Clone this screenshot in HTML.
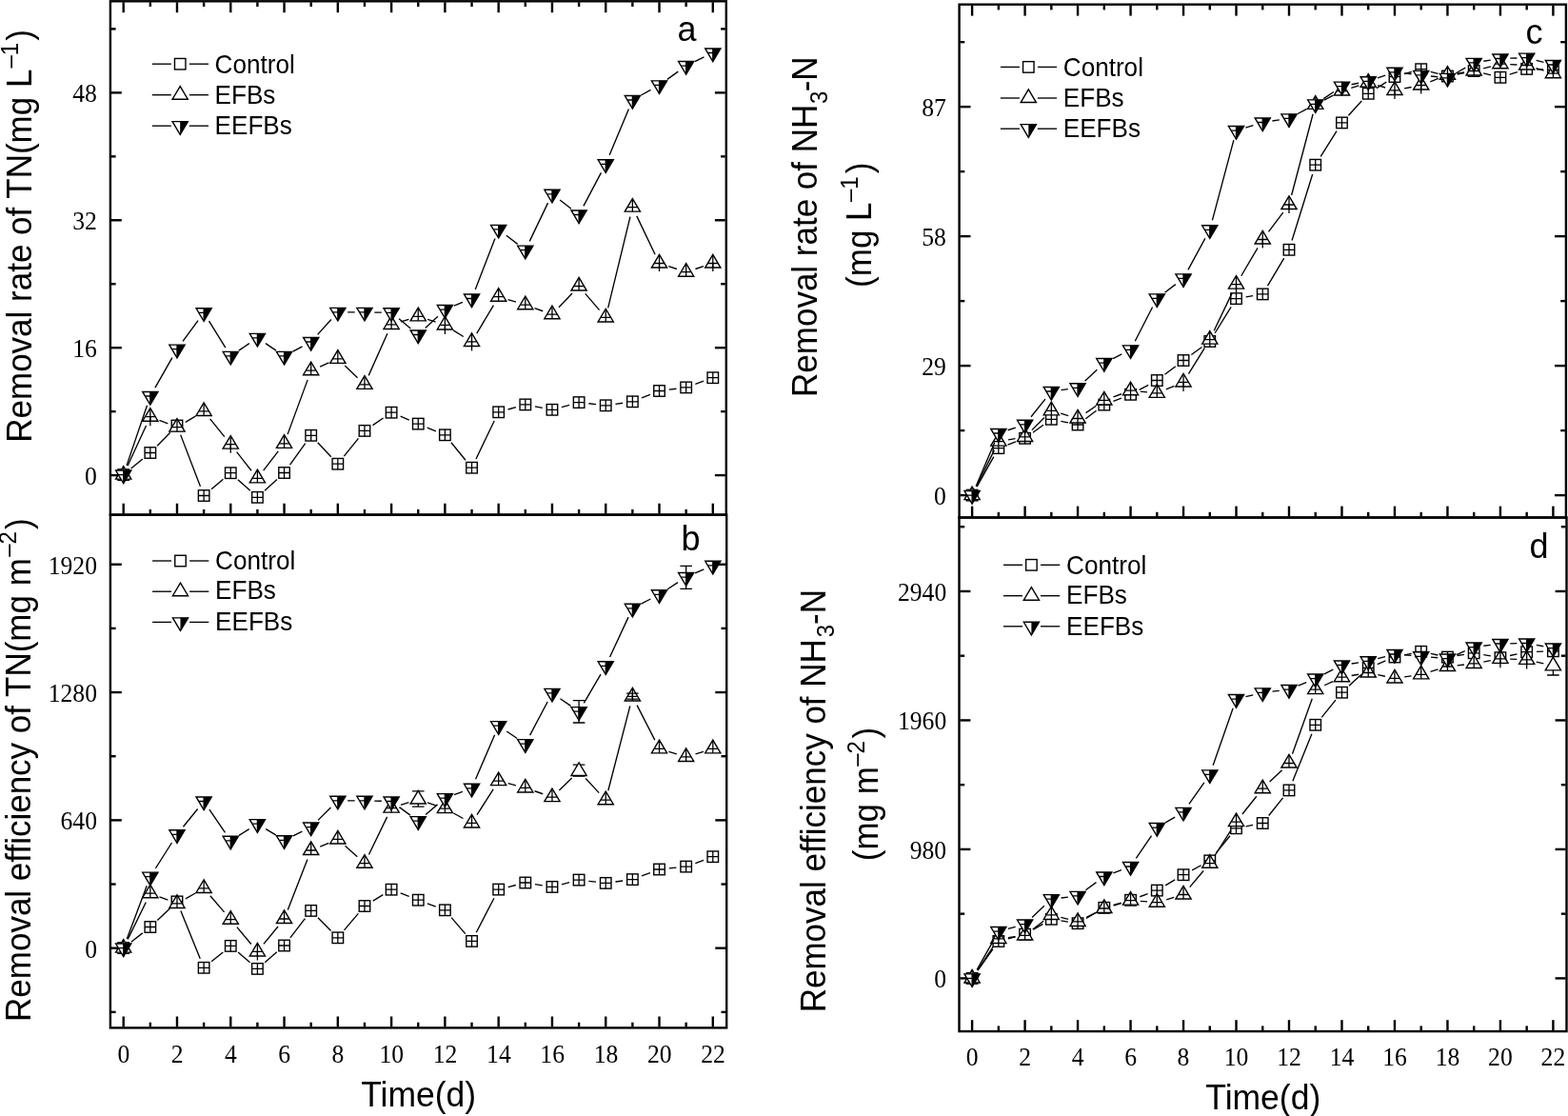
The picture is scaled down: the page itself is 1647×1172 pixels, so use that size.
<!DOCTYPE html>
<html><head><meta charset="utf-8"><title>Removal rate and efficiency of TN and NH3-N</title>
<style>
html,body{margin:0;padding:0;background:#fff;}
body{width:1647px;height:1172px;overflow:hidden;}
svg{display:block;}
.lab{font-family:"Liberation Sans",Arial,sans-serif;stroke:none;fill:#000;}
.num{font-family:"Liberation Serif","Times New Roman",serif;stroke:none;fill:#000;}
</style></head><body>
<svg width="1647" height="1172" viewBox="0 0 1647 1172">
<rect x="0" y="0" width="1647" height="1172" fill="#fff"/>
<g stroke="#000" fill="#000">
<rect x="115.9" y="1.3" width="646.9" height="539.3" fill="none" stroke-width="2.4"/>
<line x1="129.7" y1="2.3" x2="129.7" y2="13.2" stroke-width="2.4" stroke-linecap="butt"/>
<line x1="129.7" y1="539.6" x2="129.7" y2="528.7" stroke-width="2.4" stroke-linecap="butt"/>
<line x1="157.84" y1="2.3" x2="157.84" y2="7" stroke-width="2.4" stroke-linecap="butt"/>
<line x1="157.84" y1="539.6" x2="157.84" y2="534.9" stroke-width="2.4" stroke-linecap="butt"/>
<line x1="185.98" y1="2.3" x2="185.98" y2="13.2" stroke-width="2.4" stroke-linecap="butt"/>
<line x1="185.98" y1="539.6" x2="185.98" y2="528.7" stroke-width="2.4" stroke-linecap="butt"/>
<line x1="214.12" y1="2.3" x2="214.12" y2="7" stroke-width="2.4" stroke-linecap="butt"/>
<line x1="214.12" y1="539.6" x2="214.12" y2="534.9" stroke-width="2.4" stroke-linecap="butt"/>
<line x1="242.26" y1="2.3" x2="242.26" y2="13.2" stroke-width="2.4" stroke-linecap="butt"/>
<line x1="242.26" y1="539.6" x2="242.26" y2="528.7" stroke-width="2.4" stroke-linecap="butt"/>
<line x1="270.4" y1="2.3" x2="270.4" y2="7" stroke-width="2.4" stroke-linecap="butt"/>
<line x1="270.4" y1="539.6" x2="270.4" y2="534.9" stroke-width="2.4" stroke-linecap="butt"/>
<line x1="298.55" y1="2.3" x2="298.55" y2="13.2" stroke-width="2.4" stroke-linecap="butt"/>
<line x1="298.55" y1="539.6" x2="298.55" y2="528.7" stroke-width="2.4" stroke-linecap="butt"/>
<line x1="326.69" y1="2.3" x2="326.69" y2="7" stroke-width="2.4" stroke-linecap="butt"/>
<line x1="326.69" y1="539.6" x2="326.69" y2="534.9" stroke-width="2.4" stroke-linecap="butt"/>
<line x1="354.83" y1="2.3" x2="354.83" y2="13.2" stroke-width="2.4" stroke-linecap="butt"/>
<line x1="354.83" y1="539.6" x2="354.83" y2="528.7" stroke-width="2.4" stroke-linecap="butt"/>
<line x1="382.97" y1="2.3" x2="382.97" y2="7" stroke-width="2.4" stroke-linecap="butt"/>
<line x1="382.97" y1="539.6" x2="382.97" y2="534.9" stroke-width="2.4" stroke-linecap="butt"/>
<line x1="411.11" y1="2.3" x2="411.11" y2="13.2" stroke-width="2.4" stroke-linecap="butt"/>
<line x1="411.11" y1="539.6" x2="411.11" y2="528.7" stroke-width="2.4" stroke-linecap="butt"/>
<line x1="439.25" y1="2.3" x2="439.25" y2="7" stroke-width="2.4" stroke-linecap="butt"/>
<line x1="439.25" y1="539.6" x2="439.25" y2="534.9" stroke-width="2.4" stroke-linecap="butt"/>
<line x1="467.39" y1="2.3" x2="467.39" y2="13.2" stroke-width="2.4" stroke-linecap="butt"/>
<line x1="467.39" y1="539.6" x2="467.39" y2="528.7" stroke-width="2.4" stroke-linecap="butt"/>
<line x1="495.53" y1="2.3" x2="495.53" y2="7" stroke-width="2.4" stroke-linecap="butt"/>
<line x1="495.53" y1="539.6" x2="495.53" y2="534.9" stroke-width="2.4" stroke-linecap="butt"/>
<line x1="523.67" y1="2.3" x2="523.67" y2="13.2" stroke-width="2.4" stroke-linecap="butt"/>
<line x1="523.67" y1="539.6" x2="523.67" y2="528.7" stroke-width="2.4" stroke-linecap="butt"/>
<line x1="551.81" y1="2.3" x2="551.81" y2="7" stroke-width="2.4" stroke-linecap="butt"/>
<line x1="551.81" y1="539.6" x2="551.81" y2="534.9" stroke-width="2.4" stroke-linecap="butt"/>
<line x1="579.96" y1="2.3" x2="579.96" y2="13.2" stroke-width="2.4" stroke-linecap="butt"/>
<line x1="579.96" y1="539.6" x2="579.96" y2="528.7" stroke-width="2.4" stroke-linecap="butt"/>
<line x1="608.1" y1="2.3" x2="608.1" y2="7" stroke-width="2.4" stroke-linecap="butt"/>
<line x1="608.1" y1="539.6" x2="608.1" y2="534.9" stroke-width="2.4" stroke-linecap="butt"/>
<line x1="636.24" y1="2.3" x2="636.24" y2="13.2" stroke-width="2.4" stroke-linecap="butt"/>
<line x1="636.24" y1="539.6" x2="636.24" y2="528.7" stroke-width="2.4" stroke-linecap="butt"/>
<line x1="664.38" y1="2.3" x2="664.38" y2="7" stroke-width="2.4" stroke-linecap="butt"/>
<line x1="664.38" y1="539.6" x2="664.38" y2="534.9" stroke-width="2.4" stroke-linecap="butt"/>
<line x1="692.52" y1="2.3" x2="692.52" y2="13.2" stroke-width="2.4" stroke-linecap="butt"/>
<line x1="692.52" y1="539.6" x2="692.52" y2="528.7" stroke-width="2.4" stroke-linecap="butt"/>
<line x1="720.66" y1="2.3" x2="720.66" y2="7" stroke-width="2.4" stroke-linecap="butt"/>
<line x1="720.66" y1="539.6" x2="720.66" y2="534.9" stroke-width="2.4" stroke-linecap="butt"/>
<line x1="748.8" y1="2.3" x2="748.8" y2="13.2" stroke-width="2.4" stroke-linecap="butt"/>
<line x1="748.8" y1="539.6" x2="748.8" y2="528.7" stroke-width="2.4" stroke-linecap="butt"/>
<line x1="116.9" y1="499.1" x2="127.8" y2="499.1" stroke-width="2.4" stroke-linecap="butt"/>
<line x1="761.8" y1="499.1" x2="750.9" y2="499.1" stroke-width="2.4" stroke-linecap="butt"/>
<line x1="116.9" y1="365.19" x2="127.8" y2="365.19" stroke-width="2.4" stroke-linecap="butt"/>
<line x1="761.8" y1="365.19" x2="750.9" y2="365.19" stroke-width="2.4" stroke-linecap="butt"/>
<line x1="116.9" y1="231.27" x2="127.8" y2="231.27" stroke-width="2.4" stroke-linecap="butt"/>
<line x1="761.8" y1="231.27" x2="750.9" y2="231.27" stroke-width="2.4" stroke-linecap="butt"/>
<line x1="116.9" y1="97.36" x2="127.8" y2="97.36" stroke-width="2.4" stroke-linecap="butt"/>
<line x1="761.8" y1="97.36" x2="750.9" y2="97.36" stroke-width="2.4" stroke-linecap="butt"/>
<line x1="116.9" y1="432.14" x2="121.6" y2="432.14" stroke-width="2.4" stroke-linecap="butt"/>
<line x1="761.8" y1="432.14" x2="757.1" y2="432.14" stroke-width="2.4" stroke-linecap="butt"/>
<line x1="116.9" y1="298.23" x2="121.6" y2="298.23" stroke-width="2.4" stroke-linecap="butt"/>
<line x1="761.8" y1="298.23" x2="757.1" y2="298.23" stroke-width="2.4" stroke-linecap="butt"/>
<line x1="116.9" y1="164.32" x2="121.6" y2="164.32" stroke-width="2.4" stroke-linecap="butt"/>
<line x1="761.8" y1="164.32" x2="757.1" y2="164.32" stroke-width="2.4" stroke-linecap="butt"/>
<line x1="116.9" y1="30.4" x2="121.6" y2="30.4" stroke-width="2.4" stroke-linecap="butt"/>
<line x1="761.8" y1="30.4" x2="757.1" y2="30.4" stroke-width="2.4" stroke-linecap="butt"/>
<text transform="translate(101.8 509.1) scale(0.95 1)" font-size="27" text-anchor="end" class="num">0</text>
<text transform="translate(101.8 375.19) scale(0.95 1)" font-size="27" text-anchor="end" class="num">16</text>
<text transform="translate(101.8 241.27) scale(0.95 1)" font-size="27" text-anchor="end" class="num">32</text>
<text transform="translate(101.8 107.36) scale(0.95 1)" font-size="27" text-anchor="end" class="num">48</text>
<path d="M137.66 492.06L149.88 482.04M165.08 468.17L178.75 454.33M189.66 456.62L210.44 510.88M221.99 513.85L234.4 503.35M249.88 503.63L262.79 515.37M278 515.34L290.95 503.46M304.55 488.13L320.68 465.67M333.75 464.8L347.77 479.7M361.3 479.19L376.49 460.41M391.48 446.59L402.6 439.01M420.6 437.21L429.76 441.09M448.76 449.05L457.88 452.85M473.91 464.77L489.01 483.23M500 481.92L519.2 442.08M533.59 430.02L541.9 427.68M561.93 426.84L569.84 428.36M589.89 427.58L598.16 425.32M618.33 423.76L626 424.64M646.44 424.35L654.18 423.25M673.94 417.96L682.96 414.34M702.74 409.19L710.44 408.21M730.34 403.39L739.12 400.21" fill="none" stroke-width="1.35"/>
<rect x="123.95" y="492.85" width="11.5" height="11.5" fill="#fff" stroke-width="1.4"/>
<path d="M129.7 492.85V504.35M123.95 498.6H135.45" fill="none" stroke-width="1.3"/>
<rect x="152.09" y="469.75" width="11.5" height="11.5" fill="#fff" stroke-width="1.4"/>
<path d="M157.84 469.75V481.25M152.09 475.5H163.59" fill="none" stroke-width="1.3"/>
<rect x="180.23" y="441.25" width="11.5" height="11.5" fill="#fff" stroke-width="1.4"/>
<path d="M185.98 441.25V452.75M180.23 447H191.73" fill="none" stroke-width="1.3"/>
<rect x="208.37" y="514.75" width="11.5" height="11.5" fill="#fff" stroke-width="1.4"/>
<path d="M214.12 514.75V526.25M208.37 520.5H219.87" fill="none" stroke-width="1.3"/>
<rect x="236.51" y="490.95" width="11.5" height="11.5" fill="#fff" stroke-width="1.4"/>
<path d="M242.26 490.95V502.45M236.51 496.7H248.01" fill="none" stroke-width="1.3"/>
<rect x="264.65" y="516.55" width="11.5" height="11.5" fill="#fff" stroke-width="1.4"/>
<path d="M270.4 516.55V528.05M264.65 522.3H276.15" fill="none" stroke-width="1.3"/>
<rect x="292.8" y="490.75" width="11.5" height="11.5" fill="#fff" stroke-width="1.4"/>
<path d="M298.55 490.75V502.25M292.8 496.5H304.3" fill="none" stroke-width="1.3"/>
<rect x="320.94" y="451.55" width="11.5" height="11.5" fill="#fff" stroke-width="1.4"/>
<path d="M326.69 451.55V463.05M320.94 457.3H332.44" fill="none" stroke-width="1.3"/>
<rect x="349.08" y="481.45" width="11.5" height="11.5" fill="#fff" stroke-width="1.4"/>
<path d="M354.83 481.45V492.95M349.08 487.2H360.58" fill="none" stroke-width="1.3"/>
<rect x="377.22" y="446.65" width="11.5" height="11.5" fill="#fff" stroke-width="1.4"/>
<path d="M382.97 446.65V458.15M377.22 452.4H388.72" fill="none" stroke-width="1.3"/>
<rect x="405.36" y="427.45" width="11.5" height="11.5" fill="#fff" stroke-width="1.4"/>
<path d="M411.11 427.45V438.95M405.36 433.2H416.86" fill="none" stroke-width="1.3"/>
<rect x="433.5" y="439.35" width="11.5" height="11.5" fill="#fff" stroke-width="1.4"/>
<path d="M439.25 439.35V450.85M433.5 445.1H445" fill="none" stroke-width="1.3"/>
<rect x="461.64" y="451.05" width="11.5" height="11.5" fill="#fff" stroke-width="1.4"/>
<path d="M467.39 451.05V462.55M461.64 456.8H473.14" fill="none" stroke-width="1.3"/>
<rect x="489.78" y="485.45" width="11.5" height="11.5" fill="#fff" stroke-width="1.4"/>
<path d="M495.53 485.45V496.95M489.78 491.2H501.28" fill="none" stroke-width="1.3"/>
<rect x="517.92" y="427.05" width="11.5" height="11.5" fill="#fff" stroke-width="1.4"/>
<path d="M523.67 427.05V438.55M517.92 432.8H529.42" fill="none" stroke-width="1.3"/>
<rect x="546.06" y="419.15" width="11.5" height="11.5" fill="#fff" stroke-width="1.4"/>
<path d="M551.81 419.15V430.65M546.06 424.9H557.56" fill="none" stroke-width="1.3"/>
<rect x="574.21" y="424.55" width="11.5" height="11.5" fill="#fff" stroke-width="1.4"/>
<path d="M579.96 424.55V436.05M574.21 430.3H585.71" fill="none" stroke-width="1.3"/>
<rect x="602.35" y="416.85" width="11.5" height="11.5" fill="#fff" stroke-width="1.4"/>
<path d="M608.1 416.85V428.35M602.35 422.6H613.85" fill="none" stroke-width="1.3"/>
<rect x="630.49" y="420.05" width="11.5" height="11.5" fill="#fff" stroke-width="1.4"/>
<path d="M636.24 420.05V431.55M630.49 425.8H641.99" fill="none" stroke-width="1.3"/>
<rect x="658.63" y="416.05" width="11.5" height="11.5" fill="#fff" stroke-width="1.4"/>
<path d="M664.38 416.05V427.55M658.63 421.8H670.13" fill="none" stroke-width="1.3"/>
<rect x="686.77" y="404.75" width="11.5" height="11.5" fill="#fff" stroke-width="1.4"/>
<path d="M692.52 404.75V416.25M686.77 410.5H698.27" fill="none" stroke-width="1.3"/>
<rect x="714.91" y="401.15" width="11.5" height="11.5" fill="#fff" stroke-width="1.4"/>
<path d="M720.66 401.15V412.65M714.91 406.9H726.41" fill="none" stroke-width="1.3"/>
<rect x="743.05" y="390.95" width="11.5" height="11.5" fill="#fff" stroke-width="1.4"/>
<path d="M748.8 390.95V402.45M743.05 396.7H754.55" fill="none" stroke-width="1.3"/>
<path d="M134.02 489.25L153.52 447.05M167.45 441.42L176.38 444.88M194.84 443.34L205.27 437.16M220.61 439.9L235.78 458.6M248.64 474.69L264.03 494.21M276.69 494.14L292.26 473.96M302.1 456.13L323.14 398.87M336.11 385.05L345.4 380.95M362.26 383.93L375.54 396.67M387.18 394.4L406.9 350.3M420.96 337.89L429.4 335.31M449.05 335.47L457.59 338.23M476.14 346.84L486.79 353.46M500.81 350.05L518.4 320.55M533.53 314.68L541.95 317.22M561.52 323.65L570.25 326.75M587.04 322.72L601.01 307.98M614.79 308.33L629.54 325.57M638.67 323.39L661.95 227.61M668.82 226.89L688.08 267.21M702.31 279.7L710.87 282.5M730.45 282.5L739.01 279.7" fill="none" stroke-width="1.35"/>
<path d="M129.7 489.53L137.8 503.13L121.6 503.13Z" fill="#fff" stroke-width="1.4" stroke-linejoin="miter"/>
<path d="M129.7 490.53V503.13M124.6 498.6H134.8" fill="none" stroke-width="1.3"/>
<path d="M157.84 428.63L165.94 442.23L149.74 442.23Z" fill="#fff" stroke-width="1.4" stroke-linejoin="miter"/>
<path d="M157.84 429.63V442.23M152.74 437.7H162.94" fill="none" stroke-width="1.3"/>
<path d="M157.84 437.7V447.3" fill="none" stroke-width="1.3"/>
<path d="M185.98 439.53L194.08 453.13L177.88 453.13Z" fill="#fff" stroke-width="1.4" stroke-linejoin="miter"/>
<path d="M185.98 440.53V453.13M180.88 448.6H191.08" fill="none" stroke-width="1.3"/>
<path d="M214.12 422.83L222.22 436.43L206.02 436.43Z" fill="#fff" stroke-width="1.4" stroke-linejoin="miter"/>
<path d="M214.12 423.83V436.43M209.02 431.9H219.22" fill="none" stroke-width="1.3"/>
<path d="M242.26 457.53L250.36 471.13L234.16 471.13Z" fill="#fff" stroke-width="1.4" stroke-linejoin="miter"/>
<path d="M242.26 458.53V471.13M237.16 466.6H247.36" fill="none" stroke-width="1.3"/>
<path d="M242.26 466.6V475.7" fill="none" stroke-width="1.3"/>
<path d="M270.4 493.23L278.5 506.83L262.3 506.83Z" fill="#fff" stroke-width="1.4" stroke-linejoin="miter"/>
<path d="M270.4 494.23V506.83M265.31 502.3H275.5" fill="none" stroke-width="1.3"/>
<path d="M298.55 456.73L306.65 470.33L290.45 470.33Z" fill="#fff" stroke-width="1.4" stroke-linejoin="miter"/>
<path d="M298.55 457.73V470.33M293.45 465.8H303.65" fill="none" stroke-width="1.3"/>
<path d="M326.69 380.13L334.79 393.73L318.59 393.73Z" fill="#fff" stroke-width="1.4" stroke-linejoin="miter"/>
<path d="M326.69 381.13V393.73M321.59 389.2H331.79" fill="none" stroke-width="1.3"/>
<path d="M354.83 367.73L362.93 381.33L346.73 381.33Z" fill="#fff" stroke-width="1.4" stroke-linejoin="miter"/>
<path d="M354.83 368.73V381.33M349.73 376.8H359.93" fill="none" stroke-width="1.3"/>
<path d="M382.97 394.73L391.07 408.33L374.87 408.33Z" fill="#fff" stroke-width="1.4" stroke-linejoin="miter"/>
<path d="M382.97 395.73V408.33M377.87 403.8H388.07" fill="none" stroke-width="1.3"/>
<path d="M411.11 331.83L419.21 345.43L403.01 345.43Z" fill="#fff" stroke-width="1.4" stroke-linejoin="miter"/>
<path d="M411.11 332.83V345.43M406.01 340.9H416.21" fill="none" stroke-width="1.3"/>
<path d="M439.25 323.23L447.35 336.83L431.15 336.83Z" fill="#fff" stroke-width="1.4" stroke-linejoin="miter"/>
<path d="M439.25 324.23V336.83M434.15 332.3H444.35" fill="none" stroke-width="1.3"/>
<path d="M467.39 332.33L475.49 345.93L459.29 345.93Z" fill="#fff" stroke-width="1.4" stroke-linejoin="miter"/>
<path d="M467.39 333.33V345.93M462.29 341.4H472.49" fill="none" stroke-width="1.3"/>
<path d="M467.39 341.4V351" fill="none" stroke-width="1.3"/>
<path d="M495.53 349.83L503.63 363.43L487.43 363.43Z" fill="#fff" stroke-width="1.4" stroke-linejoin="miter"/>
<path d="M495.53 350.83V363.43M490.43 358.9H500.63" fill="none" stroke-width="1.3"/>
<path d="M495.53 358.9V368.4" fill="none" stroke-width="1.3"/>
<path d="M523.67 302.63L531.77 316.23L515.57 316.23Z" fill="#fff" stroke-width="1.4" stroke-linejoin="miter"/>
<path d="M523.67 303.63V316.23M518.57 311.7H528.77" fill="none" stroke-width="1.3"/>
<path d="M551.81 311.13L559.91 324.73L543.71 324.73Z" fill="#fff" stroke-width="1.4" stroke-linejoin="miter"/>
<path d="M551.81 312.13V324.73M546.71 320.2H556.91" fill="none" stroke-width="1.3"/>
<path d="M579.96 321.13L588.06 334.73L571.86 334.73Z" fill="#fff" stroke-width="1.4" stroke-linejoin="miter"/>
<path d="M579.96 322.13V334.73M574.86 330.2H585.06" fill="none" stroke-width="1.3"/>
<path d="M608.1 291.43L616.2 305.03L600 305.03Z" fill="#fff" stroke-width="1.4" stroke-linejoin="miter"/>
<path d="M608.1 292.43V305.03M603 300.5H613.2" fill="none" stroke-width="1.3"/>
<path d="M636.24 324.33L644.34 337.93L628.14 337.93Z" fill="#fff" stroke-width="1.4" stroke-linejoin="miter"/>
<path d="M636.24 325.33V337.93M631.14 333.4H641.34" fill="none" stroke-width="1.3"/>
<path d="M664.38 208.53L672.48 222.13L656.28 222.13Z" fill="#fff" stroke-width="1.4" stroke-linejoin="miter"/>
<path d="M664.38 209.53V222.13M659.28 217.6H669.48" fill="none" stroke-width="1.3"/>
<path d="M692.52 267.43L700.62 281.03L684.42 281.03Z" fill="#fff" stroke-width="1.4" stroke-linejoin="miter"/>
<path d="M692.52 268.43V281.03M687.42 276.5H697.62" fill="none" stroke-width="1.3"/>
<path d="M692.52 276.5V285" fill="none" stroke-width="1.3"/>
<path d="M720.66 276.63L728.76 290.23L712.56 290.23Z" fill="#fff" stroke-width="1.4" stroke-linejoin="miter"/>
<path d="M720.66 277.63V290.23M715.56 285.7H725.76" fill="none" stroke-width="1.3"/>
<path d="M748.8 267.43L756.9 281.03L740.7 281.03Z" fill="#fff" stroke-width="1.4" stroke-linejoin="miter"/>
<path d="M748.8 268.43V281.03M743.7 276.5H753.9" fill="none" stroke-width="1.3"/>
<path d="M748.8 276.5V285" fill="none" stroke-width="1.3"/>
<path d="M133.02 488.85L154.52 425.75M162.95 407.05L180.88 375.65M192.07 358.39L208.03 336.61M219.53 337.07L236.85 365.13M250.8 368.14L261.87 360.66M278.94 360.66L290.01 368.14M307.65 369.08L317.58 363.82M333.6 351.36L347.92 335.54M365.13 327.9L372.67 327.9M393.27 328.05L400.81 328.15M419.06 334.85L431.3 344.95M446.76 344.45L459.88 332.15M476.91 321.17L486.01 317.43M499.26 303.9L519.95 250.5M531.82 247.21L543.67 256.39M556.26 253.41L575.52 213.09M588.11 210.09L599.94 219.21M612.91 216.4L631.42 181.4M640.21 162.8L660.41 114.5M673.39 100.01L683.51 94.39M700.87 83.37L712.31 75.13M729.93 64.62L739.53 59.98" fill="none" stroke-width="1.35"/>
<path d="M121.6 494.07L137.8 494.07L129.7 507.67Z" fill="#fff" stroke="none"/>
<path d="M129.7 494.07L137.8 494.07L129.7 507.67Z" fill="#000" stroke="none"/>
<path d="M121.6 494.07L137.8 494.07L129.7 507.67Z" fill="none" stroke-width="1.4" stroke-linejoin="miter"/>
<path d="M129.7 494.07V507.67M124.6 498.6H129.7" fill="none" stroke-width="1.3"/>
<path d="M149.74 411.47L165.94 411.47L157.84 425.07Z" fill="#fff" stroke="none"/>
<path d="M157.84 411.47L165.94 411.47L157.84 425.07Z" fill="#000" stroke="none"/>
<path d="M149.74 411.47L165.94 411.47L157.84 425.07Z" fill="none" stroke-width="1.4" stroke-linejoin="miter"/>
<path d="M157.84 411.47V425.07M152.74 416H157.84" fill="none" stroke-width="1.3"/>
<path d="M177.88 362.17L194.08 362.17L185.98 375.77Z" fill="#fff" stroke="none"/>
<path d="M185.98 362.17L194.08 362.17L185.98 375.77Z" fill="#000" stroke="none"/>
<path d="M177.88 362.17L194.08 362.17L185.98 375.77Z" fill="none" stroke-width="1.4" stroke-linejoin="miter"/>
<path d="M185.98 362.17V375.77M180.88 366.7H185.98" fill="none" stroke-width="1.3"/>
<path d="M206.02 323.77L222.22 323.77L214.12 337.37Z" fill="#fff" stroke="none"/>
<path d="M214.12 323.77L222.22 323.77L214.12 337.37Z" fill="#000" stroke="none"/>
<path d="M206.02 323.77L222.22 323.77L214.12 337.37Z" fill="none" stroke-width="1.4" stroke-linejoin="miter"/>
<path d="M214.12 323.77V337.37M209.02 328.3H214.12" fill="none" stroke-width="1.3"/>
<path d="M234.16 369.37L250.36 369.37L242.26 382.97Z" fill="#fff" stroke="none"/>
<path d="M242.26 369.37L250.36 369.37L242.26 382.97Z" fill="#000" stroke="none"/>
<path d="M234.16 369.37L250.36 369.37L242.26 382.97Z" fill="none" stroke-width="1.4" stroke-linejoin="miter"/>
<path d="M242.26 369.37V382.97M237.16 373.9H242.26" fill="none" stroke-width="1.3"/>
<path d="M262.3 350.37L278.5 350.37L270.4 363.97Z" fill="#fff" stroke="none"/>
<path d="M270.4 350.37L278.5 350.37L270.4 363.97Z" fill="#000" stroke="none"/>
<path d="M262.3 350.37L278.5 350.37L270.4 363.97Z" fill="none" stroke-width="1.4" stroke-linejoin="miter"/>
<path d="M270.4 350.37V363.97M265.31 354.9H270.4" fill="none" stroke-width="1.3"/>
<path d="M290.45 369.37L306.65 369.37L298.55 382.97Z" fill="#fff" stroke="none"/>
<path d="M298.55 369.37L306.65 369.37L298.55 382.97Z" fill="#000" stroke="none"/>
<path d="M290.45 369.37L306.65 369.37L298.55 382.97Z" fill="none" stroke-width="1.4" stroke-linejoin="miter"/>
<path d="M298.55 369.37V382.97M293.45 373.9H298.55" fill="none" stroke-width="1.3"/>
<path d="M318.59 354.47L334.79 354.47L326.69 368.07Z" fill="#fff" stroke="none"/>
<path d="M326.69 354.47L334.79 354.47L326.69 368.07Z" fill="#000" stroke="none"/>
<path d="M318.59 354.47L334.79 354.47L326.69 368.07Z" fill="none" stroke-width="1.4" stroke-linejoin="miter"/>
<path d="M326.69 354.47V368.07M321.59 359H326.69" fill="none" stroke-width="1.3"/>
<path d="M346.73 323.37L362.93 323.37L354.83 336.97Z" fill="#fff" stroke="none"/>
<path d="M354.83 323.37L362.93 323.37L354.83 336.97Z" fill="#000" stroke="none"/>
<path d="M346.73 323.37L362.93 323.37L354.83 336.97Z" fill="none" stroke-width="1.4" stroke-linejoin="miter"/>
<path d="M354.83 323.37V336.97M349.73 327.9H354.83" fill="none" stroke-width="1.3"/>
<path d="M374.87 323.37L391.07 323.37L382.97 336.97Z" fill="#fff" stroke="none"/>
<path d="M382.97 323.37L391.07 323.37L382.97 336.97Z" fill="#000" stroke="none"/>
<path d="M374.87 323.37L391.07 323.37L382.97 336.97Z" fill="none" stroke-width="1.4" stroke-linejoin="miter"/>
<path d="M382.97 323.37V336.97M377.87 327.9H382.97" fill="none" stroke-width="1.3"/>
<path d="M403.01 323.77L419.21 323.77L411.11 337.37Z" fill="#fff" stroke="none"/>
<path d="M411.11 323.77L419.21 323.77L411.11 337.37Z" fill="#000" stroke="none"/>
<path d="M403.01 323.77L419.21 323.77L411.11 337.37Z" fill="none" stroke-width="1.4" stroke-linejoin="miter"/>
<path d="M411.11 323.77V337.37M406.01 328.3H411.11" fill="none" stroke-width="1.3"/>
<path d="M431.15 346.97L447.35 346.97L439.25 360.57Z" fill="#fff" stroke="none"/>
<path d="M439.25 346.97L447.35 346.97L439.25 360.57Z" fill="#000" stroke="none"/>
<path d="M431.15 346.97L447.35 346.97L439.25 360.57Z" fill="none" stroke-width="1.4" stroke-linejoin="miter"/>
<path d="M439.25 346.97V360.57M434.15 351.5H439.25" fill="none" stroke-width="1.3"/>
<path d="M459.29 320.57L475.49 320.57L467.39 334.17Z" fill="#fff" stroke="none"/>
<path d="M467.39 320.57L475.49 320.57L467.39 334.17Z" fill="#000" stroke="none"/>
<path d="M459.29 320.57L475.49 320.57L467.39 334.17Z" fill="none" stroke-width="1.4" stroke-linejoin="miter"/>
<path d="M467.39 320.57V334.17M462.29 325.1H467.39" fill="none" stroke-width="1.3"/>
<path d="M487.43 308.97L503.63 308.97L495.53 322.57Z" fill="#fff" stroke="none"/>
<path d="M495.53 308.97L503.63 308.97L495.53 322.57Z" fill="#000" stroke="none"/>
<path d="M487.43 308.97L503.63 308.97L495.53 322.57Z" fill="none" stroke-width="1.4" stroke-linejoin="miter"/>
<path d="M495.53 308.97V322.57M490.43 313.5H495.53" fill="none" stroke-width="1.3"/>
<path d="M515.57 236.37L531.77 236.37L523.67 249.97Z" fill="#fff" stroke="none"/>
<path d="M523.67 236.37L531.77 236.37L523.67 249.97Z" fill="#000" stroke="none"/>
<path d="M515.57 236.37L531.77 236.37L523.67 249.97Z" fill="none" stroke-width="1.4" stroke-linejoin="miter"/>
<path d="M523.67 236.37V249.97M518.57 240.9H523.67" fill="none" stroke-width="1.3"/>
<path d="M543.71 258.17L559.91 258.17L551.81 271.77Z" fill="#fff" stroke="none"/>
<path d="M551.81 258.17L559.91 258.17L551.81 271.77Z" fill="#000" stroke="none"/>
<path d="M543.71 258.17L559.91 258.17L551.81 271.77Z" fill="none" stroke-width="1.4" stroke-linejoin="miter"/>
<path d="M551.81 258.17V271.77M546.71 262.7H551.81" fill="none" stroke-width="1.3"/>
<path d="M571.86 199.27L588.06 199.27L579.96 212.87Z" fill="#fff" stroke="none"/>
<path d="M579.96 199.27L588.06 199.27L579.96 212.87Z" fill="#000" stroke="none"/>
<path d="M571.86 199.27L588.06 199.27L579.96 212.87Z" fill="none" stroke-width="1.4" stroke-linejoin="miter"/>
<path d="M579.96 199.27V212.87M574.86 203.8H579.96" fill="none" stroke-width="1.3"/>
<path d="M600 220.97L616.2 220.97L608.1 234.57Z" fill="#fff" stroke="none"/>
<path d="M608.1 220.97L616.2 220.97L608.1 234.57Z" fill="#000" stroke="none"/>
<path d="M600 220.97L616.2 220.97L608.1 234.57Z" fill="none" stroke-width="1.4" stroke-linejoin="miter"/>
<path d="M608.1 220.97V234.57M603 225.5H608.1" fill="none" stroke-width="1.3"/>
<path d="M628.14 167.77L644.34 167.77L636.24 181.37Z" fill="#fff" stroke="none"/>
<path d="M636.24 167.77L644.34 167.77L636.24 181.37Z" fill="#000" stroke="none"/>
<path d="M628.14 167.77L644.34 167.77L636.24 181.37Z" fill="none" stroke-width="1.4" stroke-linejoin="miter"/>
<path d="M636.24 167.77V181.37M631.14 172.3H636.24" fill="none" stroke-width="1.3"/>
<path d="M656.28 100.47L672.48 100.47L664.38 114.07Z" fill="#fff" stroke="none"/>
<path d="M664.38 100.47L672.48 100.47L664.38 114.07Z" fill="#000" stroke="none"/>
<path d="M656.28 100.47L672.48 100.47L664.38 114.07Z" fill="none" stroke-width="1.4" stroke-linejoin="miter"/>
<path d="M664.38 100.47V114.07M659.28 105H664.38" fill="none" stroke-width="1.3"/>
<path d="M684.42 84.87L700.62 84.87L692.52 98.47Z" fill="#fff" stroke="none"/>
<path d="M692.52 84.87L700.62 84.87L692.52 98.47Z" fill="#000" stroke="none"/>
<path d="M684.42 84.87L700.62 84.87L692.52 98.47Z" fill="none" stroke-width="1.4" stroke-linejoin="miter"/>
<path d="M692.52 84.87V98.47M687.42 89.4H692.52" fill="none" stroke-width="1.3"/>
<path d="M712.56 64.57L728.76 64.57L720.66 78.17Z" fill="#fff" stroke="none"/>
<path d="M720.66 64.57L728.76 64.57L720.66 78.17Z" fill="#000" stroke="none"/>
<path d="M712.56 64.57L728.76 64.57L720.66 78.17Z" fill="none" stroke-width="1.4" stroke-linejoin="miter"/>
<path d="M720.66 64.57V78.17M715.56 69.1H720.66" fill="none" stroke-width="1.3"/>
<path d="M740.7 50.97L756.9 50.97L748.8 64.57Z" fill="#fff" stroke="none"/>
<path d="M748.8 50.97L756.9 50.97L748.8 64.57Z" fill="#000" stroke="none"/>
<path d="M740.7 50.97L756.9 50.97L748.8 64.57Z" fill="none" stroke-width="1.4" stroke-linejoin="miter"/>
<path d="M748.8 50.97V64.57M743.7 55.5H748.8" fill="none" stroke-width="1.3"/>
<text x="711.5" y="42.8" class="lab" font-size="36">a</text>
<rect x="115.9" y="540.6" width="647.3" height="538.8" fill="none" stroke-width="2.4"/>
<line x1="129.7" y1="1078.4" x2="129.7" y2="1067.5" stroke-width="2.4" stroke-linecap="butt"/>
<line x1="157.84" y1="1078.4" x2="157.84" y2="1073.7" stroke-width="2.4" stroke-linecap="butt"/>
<line x1="185.98" y1="1078.4" x2="185.98" y2="1067.5" stroke-width="2.4" stroke-linecap="butt"/>
<line x1="214.12" y1="1078.4" x2="214.12" y2="1073.7" stroke-width="2.4" stroke-linecap="butt"/>
<line x1="242.26" y1="1078.4" x2="242.26" y2="1067.5" stroke-width="2.4" stroke-linecap="butt"/>
<line x1="270.4" y1="1078.4" x2="270.4" y2="1073.7" stroke-width="2.4" stroke-linecap="butt"/>
<line x1="298.55" y1="1078.4" x2="298.55" y2="1067.5" stroke-width="2.4" stroke-linecap="butt"/>
<line x1="326.69" y1="1078.4" x2="326.69" y2="1073.7" stroke-width="2.4" stroke-linecap="butt"/>
<line x1="354.83" y1="1078.4" x2="354.83" y2="1067.5" stroke-width="2.4" stroke-linecap="butt"/>
<line x1="382.97" y1="1078.4" x2="382.97" y2="1073.7" stroke-width="2.4" stroke-linecap="butt"/>
<line x1="411.11" y1="1078.4" x2="411.11" y2="1067.5" stroke-width="2.4" stroke-linecap="butt"/>
<line x1="439.25" y1="1078.4" x2="439.25" y2="1073.7" stroke-width="2.4" stroke-linecap="butt"/>
<line x1="467.39" y1="1078.4" x2="467.39" y2="1067.5" stroke-width="2.4" stroke-linecap="butt"/>
<line x1="495.53" y1="1078.4" x2="495.53" y2="1073.7" stroke-width="2.4" stroke-linecap="butt"/>
<line x1="523.67" y1="1078.4" x2="523.67" y2="1067.5" stroke-width="2.4" stroke-linecap="butt"/>
<line x1="551.81" y1="1078.4" x2="551.81" y2="1073.7" stroke-width="2.4" stroke-linecap="butt"/>
<line x1="579.96" y1="1078.4" x2="579.96" y2="1067.5" stroke-width="2.4" stroke-linecap="butt"/>
<line x1="608.1" y1="1078.4" x2="608.1" y2="1073.7" stroke-width="2.4" stroke-linecap="butt"/>
<line x1="636.24" y1="1078.4" x2="636.24" y2="1067.5" stroke-width="2.4" stroke-linecap="butt"/>
<line x1="664.38" y1="1078.4" x2="664.38" y2="1073.7" stroke-width="2.4" stroke-linecap="butt"/>
<line x1="692.52" y1="1078.4" x2="692.52" y2="1067.5" stroke-width="2.4" stroke-linecap="butt"/>
<line x1="720.66" y1="1078.4" x2="720.66" y2="1073.7" stroke-width="2.4" stroke-linecap="butt"/>
<line x1="748.8" y1="1078.4" x2="748.8" y2="1067.5" stroke-width="2.4" stroke-linecap="butt"/>
<line x1="116.9" y1="995.7" x2="127.8" y2="995.7" stroke-width="2.4" stroke-linecap="butt"/>
<line x1="762.2" y1="995.7" x2="751.3" y2="995.7" stroke-width="2.4" stroke-linecap="butt"/>
<line x1="116.9" y1="861.38" x2="127.8" y2="861.38" stroke-width="2.4" stroke-linecap="butt"/>
<line x1="762.2" y1="861.38" x2="751.3" y2="861.38" stroke-width="2.4" stroke-linecap="butt"/>
<line x1="116.9" y1="727.06" x2="127.8" y2="727.06" stroke-width="2.4" stroke-linecap="butt"/>
<line x1="762.2" y1="727.06" x2="751.3" y2="727.06" stroke-width="2.4" stroke-linecap="butt"/>
<line x1="116.9" y1="592.74" x2="127.8" y2="592.74" stroke-width="2.4" stroke-linecap="butt"/>
<line x1="762.2" y1="592.74" x2="751.3" y2="592.74" stroke-width="2.4" stroke-linecap="butt"/>
<line x1="116.9" y1="1062.86" x2="121.6" y2="1062.86" stroke-width="2.4" stroke-linecap="butt"/>
<line x1="762.2" y1="1062.86" x2="757.5" y2="1062.86" stroke-width="2.4" stroke-linecap="butt"/>
<line x1="116.9" y1="928.54" x2="121.6" y2="928.54" stroke-width="2.4" stroke-linecap="butt"/>
<line x1="762.2" y1="928.54" x2="757.5" y2="928.54" stroke-width="2.4" stroke-linecap="butt"/>
<line x1="116.9" y1="794.22" x2="121.6" y2="794.22" stroke-width="2.4" stroke-linecap="butt"/>
<line x1="762.2" y1="794.22" x2="757.5" y2="794.22" stroke-width="2.4" stroke-linecap="butt"/>
<line x1="116.9" y1="659.9" x2="121.6" y2="659.9" stroke-width="2.4" stroke-linecap="butt"/>
<line x1="762.2" y1="659.9" x2="757.5" y2="659.9" stroke-width="2.4" stroke-linecap="butt"/>
<text transform="translate(102 1005.7) scale(0.95 1)" font-size="27" text-anchor="end" class="num">0</text>
<text transform="translate(102 871.38) scale(0.95 1)" font-size="27" text-anchor="end" class="num">640</text>
<text transform="translate(102 737.06) scale(0.95 1)" font-size="27" text-anchor="end" class="num">1280</text>
<text transform="translate(102 602.74) scale(0.95 1)" font-size="27" text-anchor="end" class="num">1920</text>
<path d="M137.8 989.24L149.74 979.86M165.33 966.42L178.5 953.98M189.85 956.45L210.25 1006.75M222.11 1009.8L234.27 999.9M250.1 1000.08L262.57 1010.72M278.19 1010.65L290.76 999.75M304.82 984.83L320.41 964.57M333.94 963.72L347.58 977.48M361.48 976.93L376.32 959.37M391.74 946.11L402.34 939.59M420.7 937.95L429.66 941.45M448.89 948.83L457.75 952.17M474.12 963.6L488.8 980.6M500.27 979.26L518.93 943.24M533.66 931.58L541.83 929.52M561.99 928.59L569.78 929.81M589.93 928.81L598.13 926.69M618.33 925.3L626.01 926.2M646.45 926.02L654.17 924.98M674.02 919.97L682.88 916.63M702.77 911.94L710.42 911.16M730.32 906.53L739.14 903.27" fill="none" stroke-width="1.35"/>
<rect x="123.95" y="989.85" width="11.5" height="11.5" fill="#fff" stroke-width="1.4"/>
<path d="M129.7 989.85V1001.35M123.95 995.6H135.45" fill="none" stroke-width="1.3"/>
<rect x="152.09" y="967.75" width="11.5" height="11.5" fill="#fff" stroke-width="1.4"/>
<path d="M157.84 967.75V979.25M152.09 973.5H163.59" fill="none" stroke-width="1.3"/>
<rect x="180.23" y="941.15" width="11.5" height="11.5" fill="#fff" stroke-width="1.4"/>
<path d="M185.98 941.15V952.65M180.23 946.9H191.73" fill="none" stroke-width="1.3"/>
<rect x="208.37" y="1010.55" width="11.5" height="11.5" fill="#fff" stroke-width="1.4"/>
<path d="M214.12 1010.55V1022.05M208.37 1016.3H219.87" fill="none" stroke-width="1.3"/>
<rect x="236.51" y="987.65" width="11.5" height="11.5" fill="#fff" stroke-width="1.4"/>
<path d="M242.26 987.65V999.15M236.51 993.4H248.01" fill="none" stroke-width="1.3"/>
<rect x="264.65" y="1011.65" width="11.5" height="11.5" fill="#fff" stroke-width="1.4"/>
<path d="M270.4 1011.65V1023.15M264.65 1017.4H276.15" fill="none" stroke-width="1.3"/>
<rect x="292.8" y="987.25" width="11.5" height="11.5" fill="#fff" stroke-width="1.4"/>
<path d="M298.55 987.25V998.75M292.8 993H304.3" fill="none" stroke-width="1.3"/>
<rect x="320.94" y="950.65" width="11.5" height="11.5" fill="#fff" stroke-width="1.4"/>
<path d="M326.69 950.65V962.15M320.94 956.4H332.44" fill="none" stroke-width="1.3"/>
<rect x="349.08" y="979.05" width="11.5" height="11.5" fill="#fff" stroke-width="1.4"/>
<path d="M354.83 979.05V990.55M349.08 984.8H360.58" fill="none" stroke-width="1.3"/>
<rect x="377.22" y="945.75" width="11.5" height="11.5" fill="#fff" stroke-width="1.4"/>
<path d="M382.97 945.75V957.25M377.22 951.5H388.72" fill="none" stroke-width="1.3"/>
<rect x="405.36" y="928.45" width="11.5" height="11.5" fill="#fff" stroke-width="1.4"/>
<path d="M411.11 928.45V939.95M405.36 934.2H416.86" fill="none" stroke-width="1.3"/>
<rect x="433.5" y="939.45" width="11.5" height="11.5" fill="#fff" stroke-width="1.4"/>
<path d="M439.25 939.45V950.95M433.5 945.2H445" fill="none" stroke-width="1.3"/>
<rect x="461.64" y="950.05" width="11.5" height="11.5" fill="#fff" stroke-width="1.4"/>
<path d="M467.39 950.05V961.55M461.64 955.8H473.14" fill="none" stroke-width="1.3"/>
<rect x="489.78" y="982.65" width="11.5" height="11.5" fill="#fff" stroke-width="1.4"/>
<path d="M495.53 982.65V994.15M489.78 988.4H501.28" fill="none" stroke-width="1.3"/>
<rect x="517.92" y="928.35" width="11.5" height="11.5" fill="#fff" stroke-width="1.4"/>
<path d="M523.67 928.35V939.85M517.92 934.1H529.42" fill="none" stroke-width="1.3"/>
<rect x="546.06" y="921.25" width="11.5" height="11.5" fill="#fff" stroke-width="1.4"/>
<path d="M551.81 921.25V932.75M546.06 927H557.56" fill="none" stroke-width="1.3"/>
<rect x="574.21" y="925.65" width="11.5" height="11.5" fill="#fff" stroke-width="1.4"/>
<path d="M579.96 925.65V937.15M574.21 931.4H585.71" fill="none" stroke-width="1.3"/>
<rect x="602.35" y="918.35" width="11.5" height="11.5" fill="#fff" stroke-width="1.4"/>
<path d="M608.1 918.35V929.85M602.35 924.1H613.85" fill="none" stroke-width="1.3"/>
<rect x="630.49" y="921.65" width="11.5" height="11.5" fill="#fff" stroke-width="1.4"/>
<path d="M636.24 921.65V933.15M630.49 927.4H641.99" fill="none" stroke-width="1.3"/>
<rect x="658.63" y="917.85" width="11.5" height="11.5" fill="#fff" stroke-width="1.4"/>
<path d="M664.38 917.85V929.35M658.63 923.6H670.13" fill="none" stroke-width="1.3"/>
<rect x="686.77" y="907.25" width="11.5" height="11.5" fill="#fff" stroke-width="1.4"/>
<path d="M692.52 907.25V918.75M686.77 913H698.27" fill="none" stroke-width="1.3"/>
<rect x="714.91" y="904.35" width="11.5" height="11.5" fill="#fff" stroke-width="1.4"/>
<path d="M720.66 904.35V915.85M714.91 910.1H726.41" fill="none" stroke-width="1.3"/>
<rect x="743.05" y="893.95" width="11.5" height="11.5" fill="#fff" stroke-width="1.4"/>
<path d="M748.8 893.95V905.45M743.05 899.7H754.55" fill="none" stroke-width="1.3"/>
<path d="M134.23 986.35L153.31 947.45M167.47 941.86L176.35 945.24M194.94 943.81L205.17 937.99M220.83 940.72L235.56 957.88M248.87 973.61L263.8 991.49M276.93 991.43L292.02 972.97M302.3 955.41L322.94 902.59M336.21 889.07L345.31 885.33M362.49 888.29L375.31 899.81M387.46 897.43L406.62 857.87M420.91 845.43L429.45 842.67M449 842.83L457.64 845.77M476.44 854.02L486.48 859.48M501.06 855.71L518.15 828.79M533.64 822.69L541.84 824.81M561.55 830.76L570.22 833.74M587.36 829.94L600.69 817.06M615.11 817.45L629.23 832.65M638.82 830.23L661.8 741.37M669.08 740.57L687.82 777.13M702.37 789.31L710.81 791.89M730.51 791.89L738.95 789.31" fill="none" stroke-width="1.35"/>
<path d="M129.7 986.53L137.8 1000.13L121.6 1000.13Z" fill="#fff" stroke-width="1.4" stroke-linejoin="miter"/>
<path d="M129.7 987.53V1000.13M124.6 995.6H134.8" fill="none" stroke-width="1.3"/>
<path d="M157.84 929.13L165.94 942.73L149.74 942.73Z" fill="#fff" stroke-width="1.4" stroke-linejoin="miter"/>
<path d="M157.84 930.13V942.73M152.74 938.2H162.94" fill="none" stroke-width="1.3"/>
<path d="M185.98 939.83L194.08 953.43L177.88 953.43Z" fill="#fff" stroke-width="1.4" stroke-linejoin="miter"/>
<path d="M185.98 940.83V953.43M180.88 948.9H191.08" fill="none" stroke-width="1.3"/>
<path d="M214.12 923.83L222.22 937.43L206.02 937.43Z" fill="#fff" stroke-width="1.4" stroke-linejoin="miter"/>
<path d="M214.12 924.83V937.43M209.02 932.9H219.22" fill="none" stroke-width="1.3"/>
<path d="M242.26 956.63L250.36 970.23L234.16 970.23Z" fill="#fff" stroke-width="1.4" stroke-linejoin="miter"/>
<path d="M242.26 957.63V970.23M237.16 965.7H247.36" fill="none" stroke-width="1.3"/>
<path d="M270.4 990.33L278.5 1003.93L262.3 1003.93Z" fill="#fff" stroke-width="1.4" stroke-linejoin="miter"/>
<path d="M270.4 991.33V1003.93M265.31 999.4H275.5" fill="none" stroke-width="1.3"/>
<path d="M270.4 999.4V1008.5" fill="none" stroke-width="1.3"/>
<path d="M298.55 955.93L306.65 969.53L290.45 969.53Z" fill="#fff" stroke-width="1.4" stroke-linejoin="miter"/>
<path d="M298.55 956.93V969.53M293.45 965H303.65" fill="none" stroke-width="1.3"/>
<path d="M326.69 883.93L334.79 897.53L318.59 897.53Z" fill="#fff" stroke-width="1.4" stroke-linejoin="miter"/>
<path d="M326.69 884.93V897.53M321.59 893H331.79" fill="none" stroke-width="1.3"/>
<path d="M354.83 872.33L362.93 885.93L346.73 885.93Z" fill="#fff" stroke-width="1.4" stroke-linejoin="miter"/>
<path d="M354.83 873.33V885.93M349.73 881.4H359.93" fill="none" stroke-width="1.3"/>
<path d="M382.97 897.63L391.07 911.23L374.87 911.23Z" fill="#fff" stroke-width="1.4" stroke-linejoin="miter"/>
<path d="M382.97 898.63V911.23M377.87 906.7H388.07" fill="none" stroke-width="1.3"/>
<path d="M411.11 839.53L419.21 853.13L403.01 853.13Z" fill="#fff" stroke-width="1.4" stroke-linejoin="miter"/>
<path d="M411.11 840.53V853.13M406.01 848.6H416.21" fill="none" stroke-width="1.3"/>
<path d="M439.25 830.9V847.1M432.95 830.9H445.55M432.95 847.1H445.55" fill="none" stroke-width="1.3"/>
<path d="M439.25 830.43L447.35 844.03L431.15 844.03Z" fill="#fff" stroke-width="1.4" stroke-linejoin="miter"/>
<path d="M467.39 840.03L475.49 853.63L459.29 853.63Z" fill="#fff" stroke-width="1.4" stroke-linejoin="miter"/>
<path d="M467.39 841.03V853.63M462.29 849.1H472.49" fill="none" stroke-width="1.3"/>
<path d="M495.53 855.33L503.63 868.93L487.43 868.93Z" fill="#fff" stroke-width="1.4" stroke-linejoin="miter"/>
<path d="M495.53 856.33V868.93M490.43 864.4H500.63" fill="none" stroke-width="1.3"/>
<path d="M523.67 811.03L531.77 824.63L515.57 824.63Z" fill="#fff" stroke-width="1.4" stroke-linejoin="miter"/>
<path d="M523.67 812.03V824.63M518.57 820.1H528.77" fill="none" stroke-width="1.3"/>
<path d="M551.81 818.33L559.91 831.93L543.71 831.93Z" fill="#fff" stroke-width="1.4" stroke-linejoin="miter"/>
<path d="M551.81 819.33V831.93M546.71 827.4H556.91" fill="none" stroke-width="1.3"/>
<path d="M579.96 828.03L588.06 841.63L571.86 841.63Z" fill="#fff" stroke-width="1.4" stroke-linejoin="miter"/>
<path d="M579.96 829.03V841.63M574.86 837.1H585.06" fill="none" stroke-width="1.3"/>
<path d="M608.1 803.2V815M601.8 803.2H614.4M601.8 815H614.4" fill="none" stroke-width="1.3"/>
<path d="M608.1 800.83L616.2 814.43L600 814.43Z" fill="#fff" stroke-width="1.4" stroke-linejoin="miter"/>
<path d="M636.24 831.13L644.34 844.73L628.14 844.73Z" fill="#fff" stroke-width="1.4" stroke-linejoin="miter"/>
<path d="M636.24 832.13V844.73M631.14 840.2H641.34" fill="none" stroke-width="1.3"/>
<path d="M664.38 722.33L672.48 735.93L656.28 735.93Z" fill="#fff" stroke-width="1.4" stroke-linejoin="miter"/>
<path d="M664.38 723.33V735.93M659.28 731.4H669.48" fill="none" stroke-width="1.3"/>
<path d="M664.38 728.2V734.2M658.08 728.2H670.68M658.08 734.2H670.68" fill="none" stroke-width="1.3"/>
<path d="M692.52 777.23L700.62 790.83L684.42 790.83Z" fill="#fff" stroke-width="1.4" stroke-linejoin="miter"/>
<path d="M692.52 778.23V790.83M687.42 786.3H697.62" fill="none" stroke-width="1.3"/>
<path d="M720.66 785.83L728.76 799.43L712.56 799.43Z" fill="#fff" stroke-width="1.4" stroke-linejoin="miter"/>
<path d="M720.66 786.83V799.43M715.56 794.9H725.76" fill="none" stroke-width="1.3"/>
<path d="M748.8 777.23L756.9 790.83L740.7 790.83Z" fill="#fff" stroke-width="1.4" stroke-linejoin="miter"/>
<path d="M748.8 778.23V790.83M743.7 786.3H753.9" fill="none" stroke-width="1.3"/>
<path d="M133.32 985.96L154.22 930.34M163.35 912L180.47 885M192.46 868.29L207.65 849.51M219.92 850.01L236.46 874.29M251 877.34L261.67 870.66M279.21 870.55L289.74 876.95M307.81 877.79L317.43 873.11M334.01 861.36L347.5 848.04M365.13 840.8L372.67 840.8M393.27 841.06L400.81 841.24M419.41 847.6L430.95 856.1M447.09 855.52L459.56 844.88M477.05 834.63L485.87 831.37M499.59 818.33L519.61 771.67M532.21 767.96L543.28 775.44M556.62 772.09L575.15 737.01M588.45 733.73L599.6 741.37M613.31 738.32L631.02 708.18M640.58 689.96L660.03 648.14M673.54 634.08L683.36 629.02M701.17 618.71L712.01 611.69M730.1 601.97L739.36 597.93" fill="none" stroke-width="1.35"/>
<path d="M121.6 991.07L137.8 991.07L129.7 1004.67Z" fill="#fff" stroke="none"/>
<path d="M129.7 991.07L137.8 991.07L129.7 1004.67Z" fill="#000" stroke="none"/>
<path d="M121.6 991.07L137.8 991.07L129.7 1004.67Z" fill="none" stroke-width="1.4" stroke-linejoin="miter"/>
<path d="M129.7 991.07V1004.67M124.6 995.6H129.7" fill="none" stroke-width="1.3"/>
<path d="M149.74 916.17L165.94 916.17L157.84 929.77Z" fill="#fff" stroke="none"/>
<path d="M157.84 916.17L165.94 916.17L157.84 929.77Z" fill="#000" stroke="none"/>
<path d="M149.74 916.17L165.94 916.17L157.84 929.77Z" fill="none" stroke-width="1.4" stroke-linejoin="miter"/>
<path d="M157.84 916.17V929.77M152.74 920.7H157.84" fill="none" stroke-width="1.3"/>
<path d="M177.88 871.77L194.08 871.77L185.98 885.37Z" fill="#fff" stroke="none"/>
<path d="M185.98 871.77L194.08 871.77L185.98 885.37Z" fill="#000" stroke="none"/>
<path d="M177.88 871.77L194.08 871.77L185.98 885.37Z" fill="none" stroke-width="1.4" stroke-linejoin="miter"/>
<path d="M185.98 871.77V885.37M180.88 876.3H185.98" fill="none" stroke-width="1.3"/>
<path d="M206.02 836.97L222.22 836.97L214.12 850.57Z" fill="#fff" stroke="none"/>
<path d="M214.12 836.97L222.22 836.97L214.12 850.57Z" fill="#000" stroke="none"/>
<path d="M206.02 836.97L222.22 836.97L214.12 850.57Z" fill="none" stroke-width="1.4" stroke-linejoin="miter"/>
<path d="M214.12 836.97V850.57M209.02 841.5H214.12" fill="none" stroke-width="1.3"/>
<path d="M234.16 878.27L250.36 878.27L242.26 891.87Z" fill="#fff" stroke="none"/>
<path d="M242.26 878.27L250.36 878.27L242.26 891.87Z" fill="#000" stroke="none"/>
<path d="M234.16 878.27L250.36 878.27L242.26 891.87Z" fill="none" stroke-width="1.4" stroke-linejoin="miter"/>
<path d="M242.26 878.27V891.87M237.16 882.8H242.26" fill="none" stroke-width="1.3"/>
<path d="M262.3 860.67L278.5 860.67L270.4 874.27Z" fill="#fff" stroke="none"/>
<path d="M270.4 860.67L278.5 860.67L270.4 874.27Z" fill="#000" stroke="none"/>
<path d="M262.3 860.67L278.5 860.67L270.4 874.27Z" fill="none" stroke-width="1.4" stroke-linejoin="miter"/>
<path d="M270.4 860.67V874.27M265.31 865.2H270.4" fill="none" stroke-width="1.3"/>
<path d="M290.45 877.77L306.65 877.77L298.55 891.37Z" fill="#fff" stroke="none"/>
<path d="M298.55 877.77L306.65 877.77L298.55 891.37Z" fill="#000" stroke="none"/>
<path d="M290.45 877.77L306.65 877.77L298.55 891.37Z" fill="none" stroke-width="1.4" stroke-linejoin="miter"/>
<path d="M298.55 877.77V891.37M293.45 882.3H298.55" fill="none" stroke-width="1.3"/>
<path d="M318.59 864.07L334.79 864.07L326.69 877.67Z" fill="#fff" stroke="none"/>
<path d="M326.69 864.07L334.79 864.07L326.69 877.67Z" fill="#000" stroke="none"/>
<path d="M318.59 864.07L334.79 864.07L326.69 877.67Z" fill="none" stroke-width="1.4" stroke-linejoin="miter"/>
<path d="M326.69 864.07V877.67M321.59 868.6H326.69" fill="none" stroke-width="1.3"/>
<path d="M346.73 836.27L362.93 836.27L354.83 849.87Z" fill="#fff" stroke="none"/>
<path d="M354.83 836.27L362.93 836.27L354.83 849.87Z" fill="#000" stroke="none"/>
<path d="M346.73 836.27L362.93 836.27L354.83 849.87Z" fill="none" stroke-width="1.4" stroke-linejoin="miter"/>
<path d="M354.83 836.27V849.87M349.73 840.8H354.83" fill="none" stroke-width="1.3"/>
<path d="M374.87 836.27L391.07 836.27L382.97 849.87Z" fill="#fff" stroke="none"/>
<path d="M382.97 836.27L391.07 836.27L382.97 849.87Z" fill="#000" stroke="none"/>
<path d="M374.87 836.27L391.07 836.27L382.97 849.87Z" fill="none" stroke-width="1.4" stroke-linejoin="miter"/>
<path d="M382.97 836.27V849.87M377.87 840.8H382.97" fill="none" stroke-width="1.3"/>
<path d="M403.01 836.97L419.21 836.97L411.11 850.57Z" fill="#fff" stroke="none"/>
<path d="M411.11 836.97L419.21 836.97L411.11 850.57Z" fill="#000" stroke="none"/>
<path d="M403.01 836.97L419.21 836.97L411.11 850.57Z" fill="none" stroke-width="1.4" stroke-linejoin="miter"/>
<path d="M411.11 836.97V850.57M406.01 841.5H411.11" fill="none" stroke-width="1.3"/>
<path d="M431.15 857.67L447.35 857.67L439.25 871.27Z" fill="#fff" stroke="none"/>
<path d="M439.25 857.67L447.35 857.67L439.25 871.27Z" fill="#000" stroke="none"/>
<path d="M431.15 857.67L447.35 857.67L439.25 871.27Z" fill="none" stroke-width="1.4" stroke-linejoin="miter"/>
<path d="M439.25 857.67V871.27M434.15 862.2H439.25" fill="none" stroke-width="1.3"/>
<path d="M459.29 833.67L475.49 833.67L467.39 847.27Z" fill="#fff" stroke="none"/>
<path d="M467.39 833.67L475.49 833.67L467.39 847.27Z" fill="#000" stroke="none"/>
<path d="M459.29 833.67L475.49 833.67L467.39 847.27Z" fill="none" stroke-width="1.4" stroke-linejoin="miter"/>
<path d="M467.39 833.67V847.27M462.29 838.2H467.39" fill="none" stroke-width="1.3"/>
<path d="M487.43 823.27L503.63 823.27L495.53 836.87Z" fill="#fff" stroke="none"/>
<path d="M495.53 823.27L503.63 823.27L495.53 836.87Z" fill="#000" stroke="none"/>
<path d="M487.43 823.27L503.63 823.27L495.53 836.87Z" fill="none" stroke-width="1.4" stroke-linejoin="miter"/>
<path d="M495.53 823.27V836.87M490.43 827.8H495.53" fill="none" stroke-width="1.3"/>
<path d="M515.57 757.67L531.77 757.67L523.67 771.27Z" fill="#fff" stroke="none"/>
<path d="M523.67 757.67L531.77 757.67L523.67 771.27Z" fill="#000" stroke="none"/>
<path d="M515.57 757.67L531.77 757.67L523.67 771.27Z" fill="none" stroke-width="1.4" stroke-linejoin="miter"/>
<path d="M523.67 757.67V771.27M518.57 762.2H523.67" fill="none" stroke-width="1.3"/>
<path d="M543.71 776.67L559.91 776.67L551.81 790.27Z" fill="#fff" stroke="none"/>
<path d="M551.81 776.67L559.91 776.67L551.81 790.27Z" fill="#000" stroke="none"/>
<path d="M543.71 776.67L559.91 776.67L551.81 790.27Z" fill="none" stroke-width="1.4" stroke-linejoin="miter"/>
<path d="M551.81 776.67V790.27M546.71 781.2H551.81" fill="none" stroke-width="1.3"/>
<path d="M571.86 723.37L588.06 723.37L579.96 736.97Z" fill="#fff" stroke="none"/>
<path d="M579.96 723.37L588.06 723.37L579.96 736.97Z" fill="#000" stroke="none"/>
<path d="M571.86 723.37L588.06 723.37L579.96 736.97Z" fill="none" stroke-width="1.4" stroke-linejoin="miter"/>
<path d="M579.96 723.37V736.97M574.86 727.9H579.96" fill="none" stroke-width="1.3"/>
<path d="M600 742.67L616.2 742.67L608.1 756.27Z" fill="#fff" stroke="none"/>
<path d="M608.1 742.67L616.2 742.67L608.1 756.27Z" fill="#000" stroke="none"/>
<path d="M600 742.67L616.2 742.67L608.1 756.27Z" fill="none" stroke-width="1.4" stroke-linejoin="miter"/>
<path d="M608.1 742.67V756.27M603 747.2H608.1" fill="none" stroke-width="1.3"/>
<path d="M608.1 735.7V759M601.8 735.7H614.4M601.8 759H614.4" fill="none" stroke-width="1.3"/>
<path d="M628.14 694.77L644.34 694.77L636.24 708.37Z" fill="#fff" stroke="none"/>
<path d="M636.24 694.77L644.34 694.77L636.24 708.37Z" fill="#000" stroke="none"/>
<path d="M628.14 694.77L644.34 694.77L636.24 708.37Z" fill="none" stroke-width="1.4" stroke-linejoin="miter"/>
<path d="M636.24 694.77V708.37M631.14 699.3H636.24" fill="none" stroke-width="1.3"/>
<path d="M656.28 634.27L672.48 634.27L664.38 647.87Z" fill="#fff" stroke="none"/>
<path d="M664.38 634.27L672.48 634.27L664.38 647.87Z" fill="#000" stroke="none"/>
<path d="M656.28 634.27L672.48 634.27L664.38 647.87Z" fill="none" stroke-width="1.4" stroke-linejoin="miter"/>
<path d="M664.38 634.27V647.87M659.28 638.8H664.38" fill="none" stroke-width="1.3"/>
<path d="M684.42 619.77L700.62 619.77L692.52 633.37Z" fill="#fff" stroke="none"/>
<path d="M692.52 619.77L700.62 619.77L692.52 633.37Z" fill="#000" stroke="none"/>
<path d="M684.42 619.77L700.62 619.77L692.52 633.37Z" fill="none" stroke-width="1.4" stroke-linejoin="miter"/>
<path d="M692.52 619.77V633.37M687.42 624.3H692.52" fill="none" stroke-width="1.3"/>
<path d="M712.56 601.57L728.76 601.57L720.66 615.17Z" fill="#fff" stroke="none"/>
<path d="M720.66 601.57L728.76 601.57L720.66 615.17Z" fill="#000" stroke="none"/>
<path d="M712.56 601.57L728.76 601.57L720.66 615.17Z" fill="none" stroke-width="1.4" stroke-linejoin="miter"/>
<path d="M720.66 601.57V615.17M715.56 606.1H720.66" fill="none" stroke-width="1.3"/>
<path d="M720.66 594.4V618.4M714.36 594.4H726.96M714.36 618.4H726.96" fill="none" stroke-width="1.3"/>
<path d="M740.7 589.27L756.9 589.27L748.8 602.87Z" fill="#fff" stroke="none"/>
<path d="M748.8 589.27L756.9 589.27L748.8 602.87Z" fill="#000" stroke="none"/>
<path d="M740.7 589.27L756.9 589.27L748.8 602.87Z" fill="none" stroke-width="1.4" stroke-linejoin="miter"/>
<path d="M748.8 589.27V602.87M743.7 593.8H748.8" fill="none" stroke-width="1.3"/>
<text x="715.5" y="578.3" class="lab" font-size="36">b</text>
<rect x="1007.6" y="4.7" width="637.3" height="538.8" fill="none" stroke-width="2.4"/>
<line x1="1021.1" y1="5.7" x2="1021.1" y2="16.6" stroke-width="2.4" stroke-linecap="butt"/>
<line x1="1021.1" y1="542.5" x2="1021.1" y2="531.6" stroke-width="2.4" stroke-linecap="butt"/>
<line x1="1048.84" y1="5.7" x2="1048.84" y2="10.4" stroke-width="2.4" stroke-linecap="butt"/>
<line x1="1048.84" y1="542.5" x2="1048.84" y2="537.8" stroke-width="2.4" stroke-linecap="butt"/>
<line x1="1076.58" y1="5.7" x2="1076.58" y2="16.6" stroke-width="2.4" stroke-linecap="butt"/>
<line x1="1076.58" y1="542.5" x2="1076.58" y2="531.6" stroke-width="2.4" stroke-linecap="butt"/>
<line x1="1104.32" y1="5.7" x2="1104.32" y2="10.4" stroke-width="2.4" stroke-linecap="butt"/>
<line x1="1104.32" y1="542.5" x2="1104.32" y2="537.8" stroke-width="2.4" stroke-linecap="butt"/>
<line x1="1132.06" y1="5.7" x2="1132.06" y2="16.6" stroke-width="2.4" stroke-linecap="butt"/>
<line x1="1132.06" y1="542.5" x2="1132.06" y2="531.6" stroke-width="2.4" stroke-linecap="butt"/>
<line x1="1159.81" y1="5.7" x2="1159.81" y2="10.4" stroke-width="2.4" stroke-linecap="butt"/>
<line x1="1159.81" y1="542.5" x2="1159.81" y2="537.8" stroke-width="2.4" stroke-linecap="butt"/>
<line x1="1187.55" y1="5.7" x2="1187.55" y2="16.6" stroke-width="2.4" stroke-linecap="butt"/>
<line x1="1187.55" y1="542.5" x2="1187.55" y2="531.6" stroke-width="2.4" stroke-linecap="butt"/>
<line x1="1215.29" y1="5.7" x2="1215.29" y2="10.4" stroke-width="2.4" stroke-linecap="butt"/>
<line x1="1215.29" y1="542.5" x2="1215.29" y2="537.8" stroke-width="2.4" stroke-linecap="butt"/>
<line x1="1243.03" y1="5.7" x2="1243.03" y2="16.6" stroke-width="2.4" stroke-linecap="butt"/>
<line x1="1243.03" y1="542.5" x2="1243.03" y2="531.6" stroke-width="2.4" stroke-linecap="butt"/>
<line x1="1270.77" y1="5.7" x2="1270.77" y2="10.4" stroke-width="2.4" stroke-linecap="butt"/>
<line x1="1270.77" y1="542.5" x2="1270.77" y2="537.8" stroke-width="2.4" stroke-linecap="butt"/>
<line x1="1298.51" y1="5.7" x2="1298.51" y2="16.6" stroke-width="2.4" stroke-linecap="butt"/>
<line x1="1298.51" y1="542.5" x2="1298.51" y2="531.6" stroke-width="2.4" stroke-linecap="butt"/>
<line x1="1326.25" y1="5.7" x2="1326.25" y2="10.4" stroke-width="2.4" stroke-linecap="butt"/>
<line x1="1326.25" y1="542.5" x2="1326.25" y2="537.8" stroke-width="2.4" stroke-linecap="butt"/>
<line x1="1353.99" y1="5.7" x2="1353.99" y2="16.6" stroke-width="2.4" stroke-linecap="butt"/>
<line x1="1353.99" y1="542.5" x2="1353.99" y2="531.6" stroke-width="2.4" stroke-linecap="butt"/>
<line x1="1381.73" y1="5.7" x2="1381.73" y2="10.4" stroke-width="2.4" stroke-linecap="butt"/>
<line x1="1381.73" y1="542.5" x2="1381.73" y2="537.8" stroke-width="2.4" stroke-linecap="butt"/>
<line x1="1409.47" y1="5.7" x2="1409.47" y2="16.6" stroke-width="2.4" stroke-linecap="butt"/>
<line x1="1409.47" y1="542.5" x2="1409.47" y2="531.6" stroke-width="2.4" stroke-linecap="butt"/>
<line x1="1437.22" y1="5.7" x2="1437.22" y2="10.4" stroke-width="2.4" stroke-linecap="butt"/>
<line x1="1437.22" y1="542.5" x2="1437.22" y2="537.8" stroke-width="2.4" stroke-linecap="butt"/>
<line x1="1464.96" y1="5.7" x2="1464.96" y2="16.6" stroke-width="2.4" stroke-linecap="butt"/>
<line x1="1464.96" y1="542.5" x2="1464.96" y2="531.6" stroke-width="2.4" stroke-linecap="butt"/>
<line x1="1492.7" y1="5.7" x2="1492.7" y2="10.4" stroke-width="2.4" stroke-linecap="butt"/>
<line x1="1492.7" y1="542.5" x2="1492.7" y2="537.8" stroke-width="2.4" stroke-linecap="butt"/>
<line x1="1520.44" y1="5.7" x2="1520.44" y2="16.6" stroke-width="2.4" stroke-linecap="butt"/>
<line x1="1520.44" y1="542.5" x2="1520.44" y2="531.6" stroke-width="2.4" stroke-linecap="butt"/>
<line x1="1548.18" y1="5.7" x2="1548.18" y2="10.4" stroke-width="2.4" stroke-linecap="butt"/>
<line x1="1548.18" y1="542.5" x2="1548.18" y2="537.8" stroke-width="2.4" stroke-linecap="butt"/>
<line x1="1575.92" y1="5.7" x2="1575.92" y2="16.6" stroke-width="2.4" stroke-linecap="butt"/>
<line x1="1575.92" y1="542.5" x2="1575.92" y2="531.6" stroke-width="2.4" stroke-linecap="butt"/>
<line x1="1603.66" y1="5.7" x2="1603.66" y2="10.4" stroke-width="2.4" stroke-linecap="butt"/>
<line x1="1603.66" y1="542.5" x2="1603.66" y2="537.8" stroke-width="2.4" stroke-linecap="butt"/>
<line x1="1631.4" y1="5.7" x2="1631.4" y2="16.6" stroke-width="2.4" stroke-linecap="butt"/>
<line x1="1631.4" y1="542.5" x2="1631.4" y2="531.6" stroke-width="2.4" stroke-linecap="butt"/>
<line x1="1008.6" y1="520.1" x2="1019.5" y2="520.1" stroke-width="2.4" stroke-linecap="butt"/>
<line x1="1643.9" y1="520.1" x2="1633" y2="520.1" stroke-width="2.4" stroke-linecap="butt"/>
<line x1="1008.6" y1="384.12" x2="1019.5" y2="384.12" stroke-width="2.4" stroke-linecap="butt"/>
<line x1="1643.9" y1="384.12" x2="1633" y2="384.12" stroke-width="2.4" stroke-linecap="butt"/>
<line x1="1008.6" y1="248.14" x2="1019.5" y2="248.14" stroke-width="2.4" stroke-linecap="butt"/>
<line x1="1643.9" y1="248.14" x2="1633" y2="248.14" stroke-width="2.4" stroke-linecap="butt"/>
<line x1="1008.6" y1="112.16" x2="1019.5" y2="112.16" stroke-width="2.4" stroke-linecap="butt"/>
<line x1="1643.9" y1="112.16" x2="1633" y2="112.16" stroke-width="2.4" stroke-linecap="butt"/>
<line x1="1008.6" y1="452.11" x2="1013.3" y2="452.11" stroke-width="2.4" stroke-linecap="butt"/>
<line x1="1643.9" y1="452.11" x2="1639.2" y2="452.11" stroke-width="2.4" stroke-linecap="butt"/>
<line x1="1008.6" y1="316.13" x2="1013.3" y2="316.13" stroke-width="2.4" stroke-linecap="butt"/>
<line x1="1643.9" y1="316.13" x2="1639.2" y2="316.13" stroke-width="2.4" stroke-linecap="butt"/>
<line x1="1008.6" y1="180.15" x2="1013.3" y2="180.15" stroke-width="2.4" stroke-linecap="butt"/>
<line x1="1643.9" y1="180.15" x2="1639.2" y2="180.15" stroke-width="2.4" stroke-linecap="butt"/>
<line x1="1008.6" y1="44.17" x2="1013.3" y2="44.17" stroke-width="2.4" stroke-linecap="butt"/>
<line x1="1643.9" y1="44.17" x2="1639.2" y2="44.17" stroke-width="2.4" stroke-linecap="butt"/>
<text transform="translate(993.9 530.1) scale(0.95 1)" font-size="27" text-anchor="end" class="num">0</text>
<text transform="translate(993.9 394.12) scale(0.95 1)" font-size="27" text-anchor="end" class="num">29</text>
<text transform="translate(993.9 258.14) scale(0.95 1)" font-size="27" text-anchor="end" class="num">58</text>
<text transform="translate(993.9 122.16) scale(0.95 1)" font-size="27" text-anchor="end" class="num">87</text>
<path d="M1026.14 511.11L1043.81 479.59M1058.5 467.01L1066.93 463.89M1084.94 454.28L1095.97 446.32M1114.41 442.37L1121.97 443.93M1140.29 439.8L1151.58 431.3M1169.4 421.36L1177.95 418.04M1196.63 409.45L1206.2 404.35M1223.5 393.28L1234.82 384.72M1251.38 372.48L1262.41 364.52M1276.18 349.74L1293.1 322.36M1308.67 311.88L1316.1 310.62M1331.52 300.05L1348.72 271.15M1357.05 252.47L1378.67 183.03M1387.2 164.47L1404.01 137.63M1416.39 121.27L1430.3 105.93M1445.88 92.74L1456.29 86.06M1474.87 77.71L1482.78 75.49M1502.66 75.32L1510.48 77.38M1530.54 78L1538.08 76.5M1558.18 76.95L1565.92 78.85M1585.73 78.15L1593.85 75.55M1613.95 72.77L1621.11 73.03" fill="none" stroke-width="1.35"/>
<rect x="1015.35" y="514.35" width="11.5" height="11.5" fill="#fff" stroke-width="1.4"/>
<path d="M1021.1 514.35V525.85M1015.35 520.1H1026.85" fill="none" stroke-width="1.3"/>
<rect x="1043.09" y="464.85" width="11.5" height="11.5" fill="#fff" stroke-width="1.4"/>
<path d="M1048.84 464.85V476.35M1043.09 470.6H1054.59" fill="none" stroke-width="1.3"/>
<rect x="1070.83" y="454.55" width="11.5" height="11.5" fill="#fff" stroke-width="1.4"/>
<path d="M1076.58 454.55V466.05M1070.83 460.3H1082.33" fill="none" stroke-width="1.3"/>
<rect x="1098.57" y="434.55" width="11.5" height="11.5" fill="#fff" stroke-width="1.4"/>
<path d="M1104.32 434.55V446.05M1098.57 440.3H1110.07" fill="none" stroke-width="1.3"/>
<rect x="1126.31" y="440.25" width="11.5" height="11.5" fill="#fff" stroke-width="1.4"/>
<path d="M1132.06 440.25V451.75M1126.31 446H1137.81" fill="none" stroke-width="1.3"/>
<rect x="1154.06" y="419.35" width="11.5" height="11.5" fill="#fff" stroke-width="1.4"/>
<path d="M1159.81 419.35V430.85M1154.06 425.1H1165.56" fill="none" stroke-width="1.3"/>
<rect x="1181.8" y="408.55" width="11.5" height="11.5" fill="#fff" stroke-width="1.4"/>
<path d="M1187.55 408.55V420.05M1181.8 414.3H1193.3" fill="none" stroke-width="1.3"/>
<rect x="1209.54" y="393.75" width="11.5" height="11.5" fill="#fff" stroke-width="1.4"/>
<path d="M1215.29 393.75V405.25M1209.54 399.5H1221.04" fill="none" stroke-width="1.3"/>
<rect x="1237.28" y="372.75" width="11.5" height="11.5" fill="#fff" stroke-width="1.4"/>
<path d="M1243.03 372.75V384.25M1237.28 378.5H1248.78" fill="none" stroke-width="1.3"/>
<rect x="1265.02" y="352.75" width="11.5" height="11.5" fill="#fff" stroke-width="1.4"/>
<path d="M1270.77 352.75V364.25M1265.02 358.5H1276.52" fill="none" stroke-width="1.3"/>
<rect x="1292.76" y="307.85" width="11.5" height="11.5" fill="#fff" stroke-width="1.4"/>
<path d="M1298.51 307.85V319.35M1292.76 313.6H1304.26" fill="none" stroke-width="1.3"/>
<rect x="1320.5" y="303.15" width="11.5" height="11.5" fill="#fff" stroke-width="1.4"/>
<path d="M1326.25 303.15V314.65M1320.5 308.9H1332" fill="none" stroke-width="1.3"/>
<rect x="1348.24" y="256.55" width="11.5" height="11.5" fill="#fff" stroke-width="1.4"/>
<path d="M1353.99 256.55V268.05M1348.24 262.3H1359.74" fill="none" stroke-width="1.3"/>
<rect x="1375.98" y="167.45" width="11.5" height="11.5" fill="#fff" stroke-width="1.4"/>
<path d="M1381.73 167.45V178.95M1375.98 173.2H1387.48" fill="none" stroke-width="1.3"/>
<rect x="1403.72" y="123.15" width="11.5" height="11.5" fill="#fff" stroke-width="1.4"/>
<path d="M1409.47 123.15V134.65M1403.72 128.9H1415.22" fill="none" stroke-width="1.3"/>
<rect x="1431.47" y="92.55" width="11.5" height="11.5" fill="#fff" stroke-width="1.4"/>
<path d="M1437.22 92.55V104.05M1431.47 98.3H1442.97" fill="none" stroke-width="1.3"/>
<rect x="1459.21" y="74.75" width="11.5" height="11.5" fill="#fff" stroke-width="1.4"/>
<path d="M1464.96 74.75V86.25M1459.21 80.5H1470.71" fill="none" stroke-width="1.3"/>
<rect x="1486.95" y="66.95" width="11.5" height="11.5" fill="#fff" stroke-width="1.4"/>
<path d="M1492.7 66.95V78.45M1486.95 72.7H1498.45" fill="none" stroke-width="1.3"/>
<rect x="1514.69" y="74.25" width="11.5" height="11.5" fill="#fff" stroke-width="1.4"/>
<path d="M1520.44 74.25V85.75M1514.69 80H1526.19" fill="none" stroke-width="1.3"/>
<rect x="1542.43" y="68.75" width="11.5" height="11.5" fill="#fff" stroke-width="1.4"/>
<path d="M1548.18 68.75V80.25M1542.43 74.5H1553.93" fill="none" stroke-width="1.3"/>
<rect x="1570.17" y="75.55" width="11.5" height="11.5" fill="#fff" stroke-width="1.4"/>
<path d="M1575.92 75.55V87.05M1570.17 81.3H1581.67" fill="none" stroke-width="1.3"/>
<rect x="1597.91" y="66.65" width="11.5" height="11.5" fill="#fff" stroke-width="1.4"/>
<path d="M1603.66 66.65V78.15M1597.91 72.4H1609.41" fill="none" stroke-width="1.3"/>
<rect x="1625.65" y="67.65" width="11.5" height="11.5" fill="#fff" stroke-width="1.4"/>
<path d="M1631.4 67.65V79.15M1625.65 73.4H1637.15" fill="none" stroke-width="1.3"/>
<path d="M1025.64 510.85L1044.3 472.85M1059 461.88L1066.43 460.62M1083.88 451.64L1097.02 438.56M1114.2 434.22L1122.19 436.58M1140.55 433.66L1151.32 426.24M1169.47 416.85L1177.88 413.75M1197.8 411.16L1205.03 411.84M1224.81 408.88L1233.5 405.32M1248.45 392.64L1265.35 365.36M1275.21 347.31L1294.07 307.89M1303.74 289.72L1321.02 260.38M1332.48 243.3L1347.76 223.2M1356.62 205.04L1379.11 119.76M1390.89 105.08L1400.32 100.22M1419.29 92.39L1427.4 89.81M1447.09 89.62L1455.08 91.98M1475.07 92.93L1482.59 91.47M1502.3 85.76L1510.84 82.44M1530.62 77.16L1538 76.04M1558.14 71.88L1565.96 69.82M1586.21 67.68L1593.37 68.02M1613.49 71.58L1621.57 74.12" fill="none" stroke-width="1.35"/>
<path d="M1021.1 511.03L1029.2 524.63L1013 524.63Z" fill="#fff" stroke-width="1.4" stroke-linejoin="miter"/>
<path d="M1021.1 512.03V524.63M1016 520.1H1026.2" fill="none" stroke-width="1.3"/>
<path d="M1048.84 454.53L1056.94 468.13L1040.74 468.13Z" fill="#fff" stroke-width="1.4" stroke-linejoin="miter"/>
<path d="M1048.84 455.53V468.13M1043.74 463.6H1053.94" fill="none" stroke-width="1.3"/>
<path d="M1076.58 449.83L1084.68 463.43L1068.48 463.43Z" fill="#fff" stroke-width="1.4" stroke-linejoin="miter"/>
<path d="M1076.58 450.83V463.43M1071.48 458.9H1081.68" fill="none" stroke-width="1.3"/>
<path d="M1104.32 422.23L1112.42 435.83L1096.22 435.83Z" fill="#fff" stroke-width="1.4" stroke-linejoin="miter"/>
<path d="M1104.32 423.23V435.83M1099.22 431.3H1109.42" fill="none" stroke-width="1.3"/>
<path d="M1132.06 430.43L1140.16 444.03L1123.96 444.03Z" fill="#fff" stroke-width="1.4" stroke-linejoin="miter"/>
<path d="M1132.06 431.43V444.03M1126.96 439.5H1137.16" fill="none" stroke-width="1.3"/>
<path d="M1159.81 411.33L1167.9 424.93L1151.71 424.93Z" fill="#fff" stroke-width="1.4" stroke-linejoin="miter"/>
<path d="M1159.81 412.33V424.93M1154.7 420.4H1164.91" fill="none" stroke-width="1.3"/>
<path d="M1187.55 401.13L1195.65 414.73L1179.45 414.73Z" fill="#fff" stroke-width="1.4" stroke-linejoin="miter"/>
<path d="M1187.55 402.13V414.73M1182.45 410.2H1192.65" fill="none" stroke-width="1.3"/>
<path d="M1215.29 403.73L1223.39 417.33L1207.19 417.33Z" fill="#fff" stroke-width="1.4" stroke-linejoin="miter"/>
<path d="M1215.29 404.73V417.33M1210.19 412.8H1220.39" fill="none" stroke-width="1.3"/>
<path d="M1243.03 392.33L1251.13 405.93L1234.93 405.93Z" fill="#fff" stroke-width="1.4" stroke-linejoin="miter"/>
<path d="M1243.03 393.33V405.93M1237.93 401.4H1248.13" fill="none" stroke-width="1.3"/>
<path d="M1243.03 401.4V411.1" fill="none" stroke-width="1.3"/>
<path d="M1270.77 347.53L1278.87 361.13L1262.67 361.13Z" fill="#fff" stroke-width="1.4" stroke-linejoin="miter"/>
<path d="M1270.77 348.53V361.13M1265.67 356.6H1275.87" fill="none" stroke-width="1.3"/>
<path d="M1298.51 289.53L1306.61 303.13L1290.41 303.13Z" fill="#fff" stroke-width="1.4" stroke-linejoin="miter"/>
<path d="M1298.51 290.53V303.13M1293.41 298.6H1303.61" fill="none" stroke-width="1.3"/>
<path d="M1298.51 298.6V307.1" fill="none" stroke-width="1.3"/>
<path d="M1326.25 242.43L1334.35 256.03L1318.15 256.03Z" fill="#fff" stroke-width="1.4" stroke-linejoin="miter"/>
<path d="M1326.25 243.43V256.03M1321.15 251.5H1331.35" fill="none" stroke-width="1.3"/>
<path d="M1326.25 251.5V260.6" fill="none" stroke-width="1.3"/>
<path d="M1353.99 205.93L1362.09 219.53L1345.89 219.53Z" fill="#fff" stroke-width="1.4" stroke-linejoin="miter"/>
<path d="M1353.99 206.93V219.53M1348.89 215H1359.09" fill="none" stroke-width="1.3"/>
<path d="M1353.99 215V224.1" fill="none" stroke-width="1.3"/>
<path d="M1381.73 100.73L1389.83 114.33L1373.63 114.33Z" fill="#fff" stroke-width="1.4" stroke-linejoin="miter"/>
<path d="M1381.73 101.73V114.33M1376.63 109.8H1386.83" fill="none" stroke-width="1.3"/>
<path d="M1409.47 86.43L1417.57 100.03L1401.37 100.03Z" fill="#fff" stroke-width="1.4" stroke-linejoin="miter"/>
<path d="M1409.47 87.43V100.03M1404.37 95.5H1414.57" fill="none" stroke-width="1.3"/>
<path d="M1437.22 77.63L1445.32 91.23L1429.12 91.23Z" fill="#fff" stroke-width="1.4" stroke-linejoin="miter"/>
<path d="M1437.22 78.63V91.23M1432.12 86.7H1442.32" fill="none" stroke-width="1.3"/>
<path d="M1464.96 85.83L1473.06 99.43L1456.86 99.43Z" fill="#fff" stroke-width="1.4" stroke-linejoin="miter"/>
<path d="M1464.96 86.83V99.43M1459.86 94.9H1470.06" fill="none" stroke-width="1.3"/>
<path d="M1464.96 94.9V104" fill="none" stroke-width="1.3"/>
<path d="M1492.7 80.43L1500.8 94.03L1484.6 94.03Z" fill="#fff" stroke-width="1.4" stroke-linejoin="miter"/>
<path d="M1492.7 81.43V94.03M1487.6 89.5H1497.8" fill="none" stroke-width="1.3"/>
<path d="M1492.7 89.5V98.6" fill="none" stroke-width="1.3"/>
<path d="M1520.44 69.63L1528.54 83.23L1512.34 83.23Z" fill="#fff" stroke-width="1.4" stroke-linejoin="miter"/>
<path d="M1520.44 70.63V83.23M1515.34 78.7H1525.54" fill="none" stroke-width="1.3"/>
<path d="M1548.18 65.43L1556.28 79.03L1540.08 79.03Z" fill="#fff" stroke-width="1.4" stroke-linejoin="miter"/>
<path d="M1548.18 66.43V79.03M1543.08 74.5H1553.28" fill="none" stroke-width="1.3"/>
<path d="M1575.92 58.13L1584.02 71.73L1567.82 71.73Z" fill="#fff" stroke-width="1.4" stroke-linejoin="miter"/>
<path d="M1575.92 59.13V71.73M1570.82 67.2H1581.02" fill="none" stroke-width="1.3"/>
<path d="M1603.66 59.43L1611.76 73.03L1595.56 73.03Z" fill="#fff" stroke-width="1.4" stroke-linejoin="miter"/>
<path d="M1603.66 60.43V73.03M1598.56 68.5H1608.76" fill="none" stroke-width="1.3"/>
<path d="M1631.4 68.13L1639.5 81.73L1623.3 81.73Z" fill="#fff" stroke-width="1.4" stroke-linejoin="miter"/>
<path d="M1631.4 69.13V81.73M1626.3 77.2H1636.5" fill="none" stroke-width="1.3"/>
<path d="M1025.14 510.62L1044.8 464.48M1058.62 451.76L1066.81 449.04M1083 437.75L1097.9 419.05M1114.53 409.64L1121.85 408.66M1139.55 400.23L1152.32 388.17M1169.04 376.54L1178.31 371.96M1192.25 358.24L1210.58 322.56M1223.5 307.18L1234.82 298.62M1247.94 283.35L1265.85 250.35M1273.42 231.35L1295.86 147.05M1308.35 134.05L1316.41 131.55M1336.44 126.99L1343.8 125.91M1363.05 119.5L1372.67 114.3M1390.27 103.64L1400.93 96.46M1419.58 88.73L1427.1 87.27M1446.96 81.96L1455.21 79.14M1475.19 76.94L1482.46 77.76M1502.94 80.01L1510.2 80.79M1529.36 76.75L1539.26 71.05M1558.35 64.29L1565.75 63.11M1586.22 61.2L1593.37 61M1613.62 63.32L1621.44 65.38" fill="none" stroke-width="1.35"/>
<path d="M1013 515.57L1029.2 515.57L1021.1 529.17Z" fill="#fff" stroke="none"/>
<path d="M1021.1 515.57L1029.2 515.57L1021.1 529.17Z" fill="#000" stroke="none"/>
<path d="M1013 515.57L1029.2 515.57L1021.1 529.17Z" fill="none" stroke-width="1.4" stroke-linejoin="miter"/>
<path d="M1021.1 515.57V529.17M1016 520.1H1021.1" fill="none" stroke-width="1.3"/>
<path d="M1040.74 450.47L1056.94 450.47L1048.84 464.07Z" fill="#fff" stroke="none"/>
<path d="M1048.84 450.47L1056.94 450.47L1048.84 464.07Z" fill="#000" stroke="none"/>
<path d="M1040.74 450.47L1056.94 450.47L1048.84 464.07Z" fill="none" stroke-width="1.4" stroke-linejoin="miter"/>
<path d="M1048.84 450.47V464.07M1043.74 455H1048.84" fill="none" stroke-width="1.3"/>
<path d="M1068.48 441.27L1084.68 441.27L1076.58 454.87Z" fill="#fff" stroke="none"/>
<path d="M1076.58 441.27L1084.68 441.27L1076.58 454.87Z" fill="#000" stroke="none"/>
<path d="M1068.48 441.27L1084.68 441.27L1076.58 454.87Z" fill="none" stroke-width="1.4" stroke-linejoin="miter"/>
<path d="M1076.58 441.27V454.87M1071.48 445.8H1076.58" fill="none" stroke-width="1.3"/>
<path d="M1096.22 406.47L1112.42 406.47L1104.32 420.07Z" fill="#fff" stroke="none"/>
<path d="M1104.32 406.47L1112.42 406.47L1104.32 420.07Z" fill="#000" stroke="none"/>
<path d="M1096.22 406.47L1112.42 406.47L1104.32 420.07Z" fill="none" stroke-width="1.4" stroke-linejoin="miter"/>
<path d="M1104.32 406.47V420.07M1099.22 411H1104.32" fill="none" stroke-width="1.3"/>
<path d="M1123.96 402.77L1140.16 402.77L1132.06 416.37Z" fill="#fff" stroke="none"/>
<path d="M1132.06 402.77L1140.16 402.77L1132.06 416.37Z" fill="#000" stroke="none"/>
<path d="M1123.96 402.77L1140.16 402.77L1132.06 416.37Z" fill="none" stroke-width="1.4" stroke-linejoin="miter"/>
<path d="M1132.06 402.77V416.37M1126.96 407.3H1132.06" fill="none" stroke-width="1.3"/>
<path d="M1151.71 376.57L1167.9 376.57L1159.81 390.17Z" fill="#fff" stroke="none"/>
<path d="M1159.81 376.57L1167.9 376.57L1159.81 390.17Z" fill="#000" stroke="none"/>
<path d="M1151.71 376.57L1167.9 376.57L1159.81 390.17Z" fill="none" stroke-width="1.4" stroke-linejoin="miter"/>
<path d="M1159.81 376.57V390.17M1154.7 381.1H1159.81" fill="none" stroke-width="1.3"/>
<path d="M1179.45 362.87L1195.65 362.87L1187.55 376.47Z" fill="#fff" stroke="none"/>
<path d="M1187.55 362.87L1195.65 362.87L1187.55 376.47Z" fill="#000" stroke="none"/>
<path d="M1179.45 362.87L1195.65 362.87L1187.55 376.47Z" fill="none" stroke-width="1.4" stroke-linejoin="miter"/>
<path d="M1187.55 362.87V376.47M1182.45 367.4H1187.55" fill="none" stroke-width="1.3"/>
<path d="M1207.19 308.87L1223.39 308.87L1215.29 322.47Z" fill="#fff" stroke="none"/>
<path d="M1215.29 308.87L1223.39 308.87L1215.29 322.47Z" fill="#000" stroke="none"/>
<path d="M1207.19 308.87L1223.39 308.87L1215.29 322.47Z" fill="none" stroke-width="1.4" stroke-linejoin="miter"/>
<path d="M1215.29 308.87V322.47M1210.19 313.4H1215.29" fill="none" stroke-width="1.3"/>
<path d="M1234.93 287.87L1251.13 287.87L1243.03 301.47Z" fill="#fff" stroke="none"/>
<path d="M1243.03 287.87L1251.13 287.87L1243.03 301.47Z" fill="#000" stroke="none"/>
<path d="M1234.93 287.87L1251.13 287.87L1243.03 301.47Z" fill="none" stroke-width="1.4" stroke-linejoin="miter"/>
<path d="M1243.03 287.87V301.47M1237.93 292.4H1243.03" fill="none" stroke-width="1.3"/>
<path d="M1262.67 236.77L1278.87 236.77L1270.77 250.37Z" fill="#fff" stroke="none"/>
<path d="M1270.77 236.77L1278.87 236.77L1270.77 250.37Z" fill="#000" stroke="none"/>
<path d="M1262.67 236.77L1278.87 236.77L1270.77 250.37Z" fill="none" stroke-width="1.4" stroke-linejoin="miter"/>
<path d="M1270.77 236.77V250.37M1265.67 241.3H1270.77" fill="none" stroke-width="1.3"/>
<path d="M1290.41 132.57L1306.61 132.57L1298.51 146.17Z" fill="#fff" stroke="none"/>
<path d="M1298.51 132.57L1306.61 132.57L1298.51 146.17Z" fill="#000" stroke="none"/>
<path d="M1290.41 132.57L1306.61 132.57L1298.51 146.17Z" fill="none" stroke-width="1.4" stroke-linejoin="miter"/>
<path d="M1298.51 132.57V146.17M1293.41 137.1H1298.51" fill="none" stroke-width="1.3"/>
<path d="M1318.15 123.97L1334.35 123.97L1326.25 137.57Z" fill="#fff" stroke="none"/>
<path d="M1326.25 123.97L1334.35 123.97L1326.25 137.57Z" fill="#000" stroke="none"/>
<path d="M1318.15 123.97L1334.35 123.97L1326.25 137.57Z" fill="none" stroke-width="1.4" stroke-linejoin="miter"/>
<path d="M1326.25 123.97V137.57M1321.15 128.5H1326.25" fill="none" stroke-width="1.3"/>
<path d="M1345.89 119.87L1362.09 119.87L1353.99 133.47Z" fill="#fff" stroke="none"/>
<path d="M1353.99 119.87L1362.09 119.87L1353.99 133.47Z" fill="#000" stroke="none"/>
<path d="M1345.89 119.87L1362.09 119.87L1353.99 133.47Z" fill="none" stroke-width="1.4" stroke-linejoin="miter"/>
<path d="M1353.99 119.87V133.47M1348.89 124.4H1353.99" fill="none" stroke-width="1.3"/>
<path d="M1373.63 104.87L1389.83 104.87L1381.73 118.47Z" fill="#fff" stroke="none"/>
<path d="M1381.73 104.87L1389.83 104.87L1381.73 118.47Z" fill="#000" stroke="none"/>
<path d="M1373.63 104.87L1389.83 104.87L1381.73 118.47Z" fill="none" stroke-width="1.4" stroke-linejoin="miter"/>
<path d="M1381.73 104.87V118.47M1376.63 109.4H1381.73" fill="none" stroke-width="1.3"/>
<path d="M1401.37 86.17L1417.57 86.17L1409.47 99.77Z" fill="#fff" stroke="none"/>
<path d="M1409.47 86.17L1417.57 86.17L1409.47 99.77Z" fill="#000" stroke="none"/>
<path d="M1401.37 86.17L1417.57 86.17L1409.47 99.77Z" fill="none" stroke-width="1.4" stroke-linejoin="miter"/>
<path d="M1409.47 86.17V99.77M1404.37 90.7H1409.47" fill="none" stroke-width="1.3"/>
<path d="M1429.12 80.77L1445.32 80.77L1437.22 94.37Z" fill="#fff" stroke="none"/>
<path d="M1437.22 80.77L1445.32 80.77L1437.22 94.37Z" fill="#000" stroke="none"/>
<path d="M1429.12 80.77L1445.32 80.77L1437.22 94.37Z" fill="none" stroke-width="1.4" stroke-linejoin="miter"/>
<path d="M1437.22 80.77V94.37M1432.12 85.3H1437.22" fill="none" stroke-width="1.3"/>
<path d="M1456.86 71.27L1473.06 71.27L1464.96 84.87Z" fill="#fff" stroke="none"/>
<path d="M1464.96 71.27L1473.06 71.27L1464.96 84.87Z" fill="#000" stroke="none"/>
<path d="M1456.86 71.27L1473.06 71.27L1464.96 84.87Z" fill="none" stroke-width="1.4" stroke-linejoin="miter"/>
<path d="M1464.96 71.27V84.87M1459.86 75.8H1464.96" fill="none" stroke-width="1.3"/>
<path d="M1484.6 74.37L1500.8 74.37L1492.7 87.97Z" fill="#fff" stroke="none"/>
<path d="M1492.7 74.37L1500.8 74.37L1492.7 87.97Z" fill="#000" stroke="none"/>
<path d="M1484.6 74.37L1500.8 74.37L1492.7 87.97Z" fill="none" stroke-width="1.4" stroke-linejoin="miter"/>
<path d="M1492.7 74.37V87.97M1487.6 78.9H1492.7" fill="none" stroke-width="1.3"/>
<path d="M1512.34 77.37L1528.54 77.37L1520.44 90.97Z" fill="#fff" stroke="none"/>
<path d="M1520.44 77.37L1528.54 77.37L1520.44 90.97Z" fill="#000" stroke="none"/>
<path d="M1512.34 77.37L1528.54 77.37L1520.44 90.97Z" fill="none" stroke-width="1.4" stroke-linejoin="miter"/>
<path d="M1520.44 77.37V90.97M1515.34 81.9H1520.44" fill="none" stroke-width="1.3"/>
<path d="M1540.08 61.37L1556.28 61.37L1548.18 74.97Z" fill="#fff" stroke="none"/>
<path d="M1548.18 61.37L1556.28 61.37L1548.18 74.97Z" fill="#000" stroke="none"/>
<path d="M1540.08 61.37L1556.28 61.37L1548.18 74.97Z" fill="none" stroke-width="1.4" stroke-linejoin="miter"/>
<path d="M1548.18 61.37V74.97M1543.08 65.9H1548.18" fill="none" stroke-width="1.3"/>
<path d="M1567.82 56.97L1584.02 56.97L1575.92 70.57Z" fill="#fff" stroke="none"/>
<path d="M1575.92 56.97L1584.02 56.97L1575.92 70.57Z" fill="#000" stroke="none"/>
<path d="M1567.82 56.97L1584.02 56.97L1575.92 70.57Z" fill="none" stroke-width="1.4" stroke-linejoin="miter"/>
<path d="M1575.92 56.97V70.57M1570.82 61.5H1575.92" fill="none" stroke-width="1.3"/>
<path d="M1595.56 56.17L1611.76 56.17L1603.66 69.77Z" fill="#fff" stroke="none"/>
<path d="M1603.66 56.17L1611.76 56.17L1603.66 69.77Z" fill="#000" stroke="none"/>
<path d="M1595.56 56.17L1611.76 56.17L1603.66 69.77Z" fill="none" stroke-width="1.4" stroke-linejoin="miter"/>
<path d="M1603.66 56.17V69.77M1598.56 60.7H1603.66" fill="none" stroke-width="1.3"/>
<path d="M1623.3 63.47L1639.5 63.47L1631.4 77.07Z" fill="#fff" stroke="none"/>
<path d="M1631.4 63.47L1639.5 63.47L1631.4 77.07Z" fill="#000" stroke="none"/>
<path d="M1623.3 63.47L1639.5 63.47L1631.4 77.07Z" fill="none" stroke-width="1.4" stroke-linejoin="miter"/>
<path d="M1631.4 63.47V77.07M1626.3 68H1631.4" fill="none" stroke-width="1.3"/>
<text x="1602.5" y="46" class="lab" font-size="36">c</text>
<rect x="1007.5" y="543.5" width="638" height="539.6" fill="none" stroke-width="2.4"/>
<line x1="1021.1" y1="1082.1" x2="1021.1" y2="1071.2" stroke-width="2.4" stroke-linecap="butt"/>
<line x1="1048.84" y1="1082.1" x2="1048.84" y2="1077.4" stroke-width="2.4" stroke-linecap="butt"/>
<line x1="1076.58" y1="1082.1" x2="1076.58" y2="1071.2" stroke-width="2.4" stroke-linecap="butt"/>
<line x1="1104.32" y1="1082.1" x2="1104.32" y2="1077.4" stroke-width="2.4" stroke-linecap="butt"/>
<line x1="1132.06" y1="1082.1" x2="1132.06" y2="1071.2" stroke-width="2.4" stroke-linecap="butt"/>
<line x1="1159.81" y1="1082.1" x2="1159.81" y2="1077.4" stroke-width="2.4" stroke-linecap="butt"/>
<line x1="1187.55" y1="1082.1" x2="1187.55" y2="1071.2" stroke-width="2.4" stroke-linecap="butt"/>
<line x1="1215.29" y1="1082.1" x2="1215.29" y2="1077.4" stroke-width="2.4" stroke-linecap="butt"/>
<line x1="1243.03" y1="1082.1" x2="1243.03" y2="1071.2" stroke-width="2.4" stroke-linecap="butt"/>
<line x1="1270.77" y1="1082.1" x2="1270.77" y2="1077.4" stroke-width="2.4" stroke-linecap="butt"/>
<line x1="1298.51" y1="1082.1" x2="1298.51" y2="1071.2" stroke-width="2.4" stroke-linecap="butt"/>
<line x1="1326.25" y1="1082.1" x2="1326.25" y2="1077.4" stroke-width="2.4" stroke-linecap="butt"/>
<line x1="1353.99" y1="1082.1" x2="1353.99" y2="1071.2" stroke-width="2.4" stroke-linecap="butt"/>
<line x1="1381.73" y1="1082.1" x2="1381.73" y2="1077.4" stroke-width="2.4" stroke-linecap="butt"/>
<line x1="1409.47" y1="1082.1" x2="1409.47" y2="1071.2" stroke-width="2.4" stroke-linecap="butt"/>
<line x1="1437.22" y1="1082.1" x2="1437.22" y2="1077.4" stroke-width="2.4" stroke-linecap="butt"/>
<line x1="1464.96" y1="1082.1" x2="1464.96" y2="1071.2" stroke-width="2.4" stroke-linecap="butt"/>
<line x1="1492.7" y1="1082.1" x2="1492.7" y2="1077.4" stroke-width="2.4" stroke-linecap="butt"/>
<line x1="1520.44" y1="1082.1" x2="1520.44" y2="1071.2" stroke-width="2.4" stroke-linecap="butt"/>
<line x1="1548.18" y1="1082.1" x2="1548.18" y2="1077.4" stroke-width="2.4" stroke-linecap="butt"/>
<line x1="1575.92" y1="1082.1" x2="1575.92" y2="1071.2" stroke-width="2.4" stroke-linecap="butt"/>
<line x1="1603.66" y1="1082.1" x2="1603.66" y2="1077.4" stroke-width="2.4" stroke-linecap="butt"/>
<line x1="1631.4" y1="1082.1" x2="1631.4" y2="1071.2" stroke-width="2.4" stroke-linecap="butt"/>
<line x1="1008.5" y1="1027.4" x2="1019.4" y2="1027.4" stroke-width="2.4" stroke-linecap="butt"/>
<line x1="1644.5" y1="1027.4" x2="1633.6" y2="1027.4" stroke-width="2.4" stroke-linecap="butt"/>
<line x1="1008.5" y1="891.92" x2="1019.4" y2="891.92" stroke-width="2.4" stroke-linecap="butt"/>
<line x1="1644.5" y1="891.92" x2="1633.6" y2="891.92" stroke-width="2.4" stroke-linecap="butt"/>
<line x1="1008.5" y1="756.44" x2="1019.4" y2="756.44" stroke-width="2.4" stroke-linecap="butt"/>
<line x1="1644.5" y1="756.44" x2="1633.6" y2="756.44" stroke-width="2.4" stroke-linecap="butt"/>
<line x1="1008.5" y1="620.96" x2="1019.4" y2="620.96" stroke-width="2.4" stroke-linecap="butt"/>
<line x1="1644.5" y1="620.96" x2="1633.6" y2="620.96" stroke-width="2.4" stroke-linecap="butt"/>
<line x1="1008.5" y1="959.66" x2="1013.2" y2="959.66" stroke-width="2.4" stroke-linecap="butt"/>
<line x1="1644.5" y1="959.66" x2="1639.8" y2="959.66" stroke-width="2.4" stroke-linecap="butt"/>
<line x1="1008.5" y1="824.18" x2="1013.2" y2="824.18" stroke-width="2.4" stroke-linecap="butt"/>
<line x1="1644.5" y1="824.18" x2="1639.8" y2="824.18" stroke-width="2.4" stroke-linecap="butt"/>
<line x1="1008.5" y1="688.7" x2="1013.2" y2="688.7" stroke-width="2.4" stroke-linecap="butt"/>
<line x1="1644.5" y1="688.7" x2="1639.8" y2="688.7" stroke-width="2.4" stroke-linecap="butt"/>
<line x1="1008.5" y1="553.22" x2="1013.2" y2="553.22" stroke-width="2.4" stroke-linecap="butt"/>
<line x1="1644.5" y1="553.22" x2="1639.8" y2="553.22" stroke-width="2.4" stroke-linecap="butt"/>
<text transform="translate(994.2 1037.4) scale(0.95 1)" font-size="27" text-anchor="end" class="num">0</text>
<text transform="translate(994.2 901.92) scale(0.95 1)" font-size="27" text-anchor="end" class="num">980</text>
<text transform="translate(994.2 766.44) scale(0.95 1)" font-size="27" text-anchor="end" class="num">1960</text>
<text transform="translate(994.2 630.96) scale(0.95 1)" font-size="27" text-anchor="end" class="num">2940</text>
<path d="M1027.08 1019.01L1042.86 996.89M1058.8 985.88L1066.62 983.82M1085.52 976.08L1095.39 970.42M1114.5 966.91L1121.89 968.09M1140.93 964.46L1150.94 958.54M1169.7 950.45L1177.65 948.15M1197.21 941.75L1205.62 938.65M1224.15 929.86L1234.16 923.94M1252.12 913.85L1261.68 908.75M1277.27 895.91L1292.01 877.79M1308.63 867.87L1316.13 866.43M1332.69 856.46L1347.55 837.94M1357.85 820.35L1377.87 770.85M1388.23 753.31L1402.97 735.19M1417.03 720.2L1429.66 708.5M1446.73 697.56L1455.44 693.94M1475.05 687.93L1482.61 686.37M1502.78 686.41L1510.36 687.99M1530.62 688.52L1538 687.38M1558.32 687.59L1565.78 688.91M1585.99 688.52L1593.59 686.88M1613.96 684.37L1621.11 684.13" fill="none" stroke-width="1.35"/>
<rect x="1015.35" y="1021.65" width="11.5" height="11.5" fill="#fff" stroke-width="1.4"/>
<path d="M1021.1 1021.65V1033.15M1015.35 1027.4H1026.85" fill="none" stroke-width="1.3"/>
<rect x="1043.09" y="982.75" width="11.5" height="11.5" fill="#fff" stroke-width="1.4"/>
<path d="M1048.84 982.75V994.25M1043.09 988.5H1054.59" fill="none" stroke-width="1.3"/>
<rect x="1070.83" y="975.45" width="11.5" height="11.5" fill="#fff" stroke-width="1.4"/>
<path d="M1076.58 975.45V986.95M1070.83 981.2H1082.33" fill="none" stroke-width="1.3"/>
<rect x="1098.57" y="959.55" width="11.5" height="11.5" fill="#fff" stroke-width="1.4"/>
<path d="M1104.32 959.55V971.05M1098.57 965.3H1110.07" fill="none" stroke-width="1.3"/>
<rect x="1126.31" y="963.95" width="11.5" height="11.5" fill="#fff" stroke-width="1.4"/>
<path d="M1132.06 963.95V975.45M1126.31 969.7H1137.81" fill="none" stroke-width="1.3"/>
<rect x="1154.06" y="947.55" width="11.5" height="11.5" fill="#fff" stroke-width="1.4"/>
<path d="M1159.81 947.55V959.05M1154.06 953.3H1165.56" fill="none" stroke-width="1.3"/>
<rect x="1181.8" y="939.55" width="11.5" height="11.5" fill="#fff" stroke-width="1.4"/>
<path d="M1187.55 939.55V951.05M1181.8 945.3H1193.3" fill="none" stroke-width="1.3"/>
<rect x="1209.54" y="929.35" width="11.5" height="11.5" fill="#fff" stroke-width="1.4"/>
<path d="M1215.29 929.35V940.85M1209.54 935.1H1221.04" fill="none" stroke-width="1.3"/>
<rect x="1237.28" y="912.95" width="11.5" height="11.5" fill="#fff" stroke-width="1.4"/>
<path d="M1243.03 912.95V924.45M1237.28 918.7H1248.78" fill="none" stroke-width="1.3"/>
<rect x="1265.02" y="898.15" width="11.5" height="11.5" fill="#fff" stroke-width="1.4"/>
<path d="M1270.77 898.15V909.65M1265.02 903.9H1276.52" fill="none" stroke-width="1.3"/>
<rect x="1292.76" y="864.05" width="11.5" height="11.5" fill="#fff" stroke-width="1.4"/>
<path d="M1298.51 864.05V875.55M1292.76 869.8H1304.26" fill="none" stroke-width="1.3"/>
<rect x="1320.5" y="858.75" width="11.5" height="11.5" fill="#fff" stroke-width="1.4"/>
<path d="M1326.25 858.75V870.25M1320.5 864.5H1332" fill="none" stroke-width="1.3"/>
<rect x="1348.24" y="824.15" width="11.5" height="11.5" fill="#fff" stroke-width="1.4"/>
<path d="M1353.99 824.15V835.65M1348.24 829.9H1359.74" fill="none" stroke-width="1.3"/>
<rect x="1375.98" y="755.55" width="11.5" height="11.5" fill="#fff" stroke-width="1.4"/>
<path d="M1381.73 755.55V767.05M1375.98 761.3H1387.48" fill="none" stroke-width="1.3"/>
<rect x="1403.72" y="721.45" width="11.5" height="11.5" fill="#fff" stroke-width="1.4"/>
<path d="M1409.47 721.45V732.95M1403.72 727.2H1415.22" fill="none" stroke-width="1.3"/>
<rect x="1431.47" y="695.75" width="11.5" height="11.5" fill="#fff" stroke-width="1.4"/>
<path d="M1437.22 695.75V707.25M1431.47 701.5H1442.97" fill="none" stroke-width="1.3"/>
<rect x="1459.21" y="684.25" width="11.5" height="11.5" fill="#fff" stroke-width="1.4"/>
<path d="M1464.96 684.25V695.75M1459.21 690H1470.71" fill="none" stroke-width="1.3"/>
<rect x="1486.95" y="678.55" width="11.5" height="11.5" fill="#fff" stroke-width="1.4"/>
<path d="M1492.7 678.55V690.05M1486.95 684.3H1498.45" fill="none" stroke-width="1.3"/>
<rect x="1514.69" y="684.35" width="11.5" height="11.5" fill="#fff" stroke-width="1.4"/>
<path d="M1520.44 684.35V695.85M1514.69 690.1H1526.19" fill="none" stroke-width="1.3"/>
<rect x="1542.43" y="680.05" width="11.5" height="11.5" fill="#fff" stroke-width="1.4"/>
<path d="M1548.18 680.05V691.55M1542.43 685.8H1553.93" fill="none" stroke-width="1.3"/>
<rect x="1570.17" y="684.95" width="11.5" height="11.5" fill="#fff" stroke-width="1.4"/>
<path d="M1575.92 684.95V696.45M1570.17 690.7H1581.67" fill="none" stroke-width="1.3"/>
<rect x="1597.91" y="678.95" width="11.5" height="11.5" fill="#fff" stroke-width="1.4"/>
<path d="M1603.66 678.95V690.45M1597.91 684.7H1609.41" fill="none" stroke-width="1.3"/>
<rect x="1625.65" y="678.05" width="11.5" height="11.5" fill="#fff" stroke-width="1.4"/>
<path d="M1631.4 678.05V689.55M1625.65 683.8H1637.15" fill="none" stroke-width="1.3"/>
<path d="M1026.82 1018.84L1043.12 994.46M1059.06 984.61L1066.36 983.69M1084.72 976.09L1096.18 967.21M1114.31 963.42L1122.08 965.38M1141.27 963.29L1150.6 958.61M1169.66 951.01L1177.69 948.59M1197.82 946.38L1205.02 946.92M1225.16 944.78L1233.15 942.42M1249.68 931.64L1264.12 914.56M1276.3 898.01L1292.98 871.79M1304.92 855.04L1319.84 836.26M1333.67 821.06L1346.57 808.64M1357.47 791.8L1378.26 733.8M1391.07 719.76L1400.13 715.54M1419.63 709.48L1427.06 708.22M1447.29 708.64L1454.88 710.26M1475.15 710.89L1482.51 709.81M1502.56 705.35L1510.57 702.95M1530.67 698.86L1537.94 698.04M1558.31 695.04L1565.79 693.66M1586.21 692.17L1593.37 692.43M1613.69 695.15L1621.37 696.95" fill="none" stroke-width="1.35"/>
<path d="M1021.1 1018.33L1029.2 1031.93L1013 1031.93Z" fill="#fff" stroke-width="1.4" stroke-linejoin="miter"/>
<path d="M1021.1 1019.33V1031.93M1016 1027.4H1026.2" fill="none" stroke-width="1.3"/>
<path d="M1048.84 976.83L1056.94 990.43L1040.74 990.43Z" fill="#fff" stroke-width="1.4" stroke-linejoin="miter"/>
<path d="M1048.84 977.83V990.43M1043.74 985.9H1053.94" fill="none" stroke-width="1.3"/>
<path d="M1076.58 973.33L1084.68 986.93L1068.48 986.93Z" fill="#fff" stroke-width="1.4" stroke-linejoin="miter"/>
<path d="M1076.58 974.33V986.93M1071.48 982.4H1081.68" fill="none" stroke-width="1.3"/>
<path d="M1104.32 951.83L1112.42 965.43L1096.22 965.43Z" fill="#fff" stroke-width="1.4" stroke-linejoin="miter"/>
<path d="M1104.32 952.83V965.43M1099.22 960.9H1109.42" fill="none" stroke-width="1.3"/>
<path d="M1132.06 958.83L1140.16 972.43L1123.96 972.43Z" fill="#fff" stroke-width="1.4" stroke-linejoin="miter"/>
<path d="M1132.06 959.83V972.43M1126.96 967.9H1137.16" fill="none" stroke-width="1.3"/>
<path d="M1159.81 944.93L1167.9 958.53L1151.71 958.53Z" fill="#fff" stroke-width="1.4" stroke-linejoin="miter"/>
<path d="M1159.81 945.93V958.53M1154.7 954H1164.91" fill="none" stroke-width="1.3"/>
<path d="M1187.55 936.53L1195.65 950.13L1179.45 950.13Z" fill="#fff" stroke-width="1.4" stroke-linejoin="miter"/>
<path d="M1187.55 937.53V950.13M1182.45 945.6H1192.65" fill="none" stroke-width="1.3"/>
<path d="M1215.29 938.63L1223.39 952.23L1207.19 952.23Z" fill="#fff" stroke-width="1.4" stroke-linejoin="miter"/>
<path d="M1215.29 939.63V952.23M1210.19 947.7H1220.39" fill="none" stroke-width="1.3"/>
<path d="M1243.03 930.43L1251.13 944.03L1234.93 944.03Z" fill="#fff" stroke-width="1.4" stroke-linejoin="miter"/>
<path d="M1243.03 931.43V944.03M1237.93 939.5H1248.13" fill="none" stroke-width="1.3"/>
<path d="M1270.77 897.63L1278.87 911.23L1262.67 911.23Z" fill="#fff" stroke-width="1.4" stroke-linejoin="miter"/>
<path d="M1270.77 898.63V911.23M1265.67 906.7H1275.87" fill="none" stroke-width="1.3"/>
<path d="M1298.51 854.03L1306.61 867.63L1290.41 867.63Z" fill="#fff" stroke-width="1.4" stroke-linejoin="miter"/>
<path d="M1298.51 855.03V867.63M1293.41 863.1H1303.61" fill="none" stroke-width="1.3"/>
<path d="M1326.25 819.13L1334.35 832.73L1318.15 832.73Z" fill="#fff" stroke-width="1.4" stroke-linejoin="miter"/>
<path d="M1326.25 820.13V832.73M1321.15 828.2H1331.35" fill="none" stroke-width="1.3"/>
<path d="M1353.99 792.43L1362.09 806.03L1345.89 806.03Z" fill="#fff" stroke-width="1.4" stroke-linejoin="miter"/>
<path d="M1353.99 793.43V806.03M1348.89 801.5H1359.09" fill="none" stroke-width="1.3"/>
<path d="M1381.73 715.03L1389.83 728.63L1373.63 728.63Z" fill="#fff" stroke-width="1.4" stroke-linejoin="miter"/>
<path d="M1381.73 716.03V728.63M1376.63 724.1H1386.83" fill="none" stroke-width="1.3"/>
<path d="M1409.47 702.13L1417.57 715.73L1401.37 715.73Z" fill="#fff" stroke-width="1.4" stroke-linejoin="miter"/>
<path d="M1409.47 703.13V715.73M1404.37 711.2H1414.57" fill="none" stroke-width="1.3"/>
<path d="M1437.22 697.43L1445.32 711.03L1429.12 711.03Z" fill="#fff" stroke-width="1.4" stroke-linejoin="miter"/>
<path d="M1437.22 698.43V711.03M1432.12 706.5H1442.32" fill="none" stroke-width="1.3"/>
<path d="M1464.96 703.33L1473.06 716.93L1456.86 716.93Z" fill="#fff" stroke-width="1.4" stroke-linejoin="miter"/>
<path d="M1464.96 704.33V716.93M1459.86 712.4H1470.06" fill="none" stroke-width="1.3"/>
<path d="M1492.7 699.23L1500.8 712.83L1484.6 712.83Z" fill="#fff" stroke-width="1.4" stroke-linejoin="miter"/>
<path d="M1492.7 700.23V712.83M1487.6 708.3H1497.8" fill="none" stroke-width="1.3"/>
<path d="M1520.44 690.93L1528.54 704.53L1512.34 704.53Z" fill="#fff" stroke-width="1.4" stroke-linejoin="miter"/>
<path d="M1520.44 691.93V704.53M1515.34 700H1525.54" fill="none" stroke-width="1.3"/>
<path d="M1548.18 687.83L1556.28 701.43L1540.08 701.43Z" fill="#fff" stroke-width="1.4" stroke-linejoin="miter"/>
<path d="M1548.18 688.83V701.43M1543.08 696.9H1553.28" fill="none" stroke-width="1.3"/>
<path d="M1575.92 682.73L1584.02 696.33L1567.82 696.33Z" fill="#fff" stroke-width="1.4" stroke-linejoin="miter"/>
<path d="M1575.92 683.73V696.33M1570.82 691.8H1581.02" fill="none" stroke-width="1.3"/>
<path d="M1575.92 691.8V701.3" fill="none" stroke-width="1.3"/>
<path d="M1603.66 683.73L1611.76 697.33L1595.56 697.33Z" fill="#fff" stroke-width="1.4" stroke-linejoin="miter"/>
<path d="M1603.66 684.73V697.33M1598.56 692.8H1608.76" fill="none" stroke-width="1.3"/>
<path d="M1603.66 692.8V702.6" fill="none" stroke-width="1.3"/>
<path d="M1631.4 699.3V709M1625.1 699.3H1637.7M1625.1 709H1637.7" fill="none" stroke-width="1.3"/>
<path d="M1631.4 690.23L1639.5 703.83L1623.3 703.83Z" fill="#fff" stroke-width="1.4" stroke-linejoin="miter"/>
<path d="M1026.15 1018.42L1043.79 987.08M1058.78 975.41L1066.64 973.29M1084.04 963.5L1096.86 951.3M1114.55 942.98L1121.84 942.12M1140.36 934.8L1151.51 926.6M1169.44 916.85L1177.91 913.65M1193.33 901.48L1209.51 877.62M1224.18 863.91L1234.13 858.09M1248.95 844.47L1264.85 821.83M1274.17 803.68L1295.11 743.82M1308.52 731.68L1316.24 729.82M1336.48 726.18L1343.76 725.32M1363.51 720.16L1372.22 716.54M1390.92 707.93L1400.29 703.17M1419.66 696.96L1427.03 695.84M1447.18 691.68L1455 689.62M1475.22 687.85L1482.43 688.45M1502.96 690.15L1510.17 690.75M1529.89 687.51L1538.73 683.69M1558.39 678.27L1565.71 677.33M1586.22 675.81L1593.36 675.69M1613.79 677.36L1621.27 678.74" fill="none" stroke-width="1.35"/>
<path d="M1013 1022.87L1029.2 1022.87L1021.1 1036.47Z" fill="#fff" stroke="none"/>
<path d="M1021.1 1022.87L1029.2 1022.87L1021.1 1036.47Z" fill="#000" stroke="none"/>
<path d="M1013 1022.87L1029.2 1022.87L1021.1 1036.47Z" fill="none" stroke-width="1.4" stroke-linejoin="miter"/>
<path d="M1021.1 1022.87V1036.47M1016 1027.4H1021.1" fill="none" stroke-width="1.3"/>
<path d="M1040.74 973.57L1056.94 973.57L1048.84 987.17Z" fill="#fff" stroke="none"/>
<path d="M1048.84 973.57L1056.94 973.57L1048.84 987.17Z" fill="#000" stroke="none"/>
<path d="M1040.74 973.57L1056.94 973.57L1048.84 987.17Z" fill="none" stroke-width="1.4" stroke-linejoin="miter"/>
<path d="M1048.84 973.57V987.17M1043.74 978.1H1048.84" fill="none" stroke-width="1.3"/>
<path d="M1068.48 966.07L1084.68 966.07L1076.58 979.67Z" fill="#fff" stroke="none"/>
<path d="M1076.58 966.07L1084.68 966.07L1076.58 979.67Z" fill="#000" stroke="none"/>
<path d="M1068.48 966.07L1084.68 966.07L1076.58 979.67Z" fill="none" stroke-width="1.4" stroke-linejoin="miter"/>
<path d="M1076.58 966.07V979.67M1071.48 970.6H1076.58" fill="none" stroke-width="1.3"/>
<path d="M1096.22 939.67L1112.42 939.67L1104.32 953.27Z" fill="#fff" stroke="none"/>
<path d="M1104.32 939.67L1112.42 939.67L1104.32 953.27Z" fill="#000" stroke="none"/>
<path d="M1096.22 939.67L1112.42 939.67L1104.32 953.27Z" fill="none" stroke-width="1.4" stroke-linejoin="miter"/>
<path d="M1104.32 939.67V953.27M1099.22 944.2H1104.32" fill="none" stroke-width="1.3"/>
<path d="M1123.96 936.37L1140.16 936.37L1132.06 949.97Z" fill="#fff" stroke="none"/>
<path d="M1132.06 936.37L1140.16 936.37L1132.06 949.97Z" fill="#000" stroke="none"/>
<path d="M1123.96 936.37L1140.16 936.37L1132.06 949.97Z" fill="none" stroke-width="1.4" stroke-linejoin="miter"/>
<path d="M1132.06 936.37V949.97M1126.96 940.9H1132.06" fill="none" stroke-width="1.3"/>
<path d="M1151.71 915.97L1167.9 915.97L1159.81 929.57Z" fill="#fff" stroke="none"/>
<path d="M1159.81 915.97L1167.9 915.97L1159.81 929.57Z" fill="#000" stroke="none"/>
<path d="M1151.71 915.97L1167.9 915.97L1159.81 929.57Z" fill="none" stroke-width="1.4" stroke-linejoin="miter"/>
<path d="M1159.81 915.97V929.57M1154.7 920.5H1159.81" fill="none" stroke-width="1.3"/>
<path d="M1179.45 905.47L1195.65 905.47L1187.55 919.07Z" fill="#fff" stroke="none"/>
<path d="M1187.55 905.47L1195.65 905.47L1187.55 919.07Z" fill="#000" stroke="none"/>
<path d="M1179.45 905.47L1195.65 905.47L1187.55 919.07Z" fill="none" stroke-width="1.4" stroke-linejoin="miter"/>
<path d="M1187.55 905.47V919.07M1182.45 910H1187.55" fill="none" stroke-width="1.3"/>
<path d="M1207.19 864.57L1223.39 864.57L1215.29 878.17Z" fill="#fff" stroke="none"/>
<path d="M1215.29 864.57L1223.39 864.57L1215.29 878.17Z" fill="#000" stroke="none"/>
<path d="M1207.19 864.57L1223.39 864.57L1215.29 878.17Z" fill="none" stroke-width="1.4" stroke-linejoin="miter"/>
<path d="M1215.29 864.57V878.17M1210.19 869.1H1215.29" fill="none" stroke-width="1.3"/>
<path d="M1234.93 848.37L1251.13 848.37L1243.03 861.97Z" fill="#fff" stroke="none"/>
<path d="M1243.03 848.37L1251.13 848.37L1243.03 861.97Z" fill="#000" stroke="none"/>
<path d="M1234.93 848.37L1251.13 848.37L1243.03 861.97Z" fill="none" stroke-width="1.4" stroke-linejoin="miter"/>
<path d="M1243.03 848.37V861.97M1237.93 852.9H1243.03" fill="none" stroke-width="1.3"/>
<path d="M1262.67 808.87L1278.87 808.87L1270.77 822.47Z" fill="#fff" stroke="none"/>
<path d="M1270.77 808.87L1278.87 808.87L1270.77 822.47Z" fill="#000" stroke="none"/>
<path d="M1262.67 808.87L1278.87 808.87L1270.77 822.47Z" fill="none" stroke-width="1.4" stroke-linejoin="miter"/>
<path d="M1270.77 808.87V822.47M1265.67 813.4H1270.77" fill="none" stroke-width="1.3"/>
<path d="M1290.41 729.57L1306.61 729.57L1298.51 743.17Z" fill="#fff" stroke="none"/>
<path d="M1298.51 729.57L1306.61 729.57L1298.51 743.17Z" fill="#000" stroke="none"/>
<path d="M1290.41 729.57L1306.61 729.57L1298.51 743.17Z" fill="none" stroke-width="1.4" stroke-linejoin="miter"/>
<path d="M1298.51 729.57V743.17M1293.41 734.1H1298.51" fill="none" stroke-width="1.3"/>
<path d="M1318.15 722.87L1334.35 722.87L1326.25 736.47Z" fill="#fff" stroke="none"/>
<path d="M1326.25 722.87L1334.35 722.87L1326.25 736.47Z" fill="#000" stroke="none"/>
<path d="M1318.15 722.87L1334.35 722.87L1326.25 736.47Z" fill="none" stroke-width="1.4" stroke-linejoin="miter"/>
<path d="M1326.25 722.87V736.47M1321.15 727.4H1326.25" fill="none" stroke-width="1.3"/>
<path d="M1345.89 719.57L1362.09 719.57L1353.99 733.17Z" fill="#fff" stroke="none"/>
<path d="M1353.99 719.57L1362.09 719.57L1353.99 733.17Z" fill="#000" stroke="none"/>
<path d="M1345.89 719.57L1362.09 719.57L1353.99 733.17Z" fill="none" stroke-width="1.4" stroke-linejoin="miter"/>
<path d="M1353.99 719.57V733.17M1348.89 724.1H1353.99" fill="none" stroke-width="1.3"/>
<path d="M1373.63 708.07L1389.83 708.07L1381.73 721.67Z" fill="#fff" stroke="none"/>
<path d="M1381.73 708.07L1389.83 708.07L1381.73 721.67Z" fill="#000" stroke="none"/>
<path d="M1373.63 708.07L1389.83 708.07L1381.73 721.67Z" fill="none" stroke-width="1.4" stroke-linejoin="miter"/>
<path d="M1381.73 708.07V721.67M1376.63 712.6H1381.73" fill="none" stroke-width="1.3"/>
<path d="M1401.37 693.97L1417.57 693.97L1409.47 707.57Z" fill="#fff" stroke="none"/>
<path d="M1409.47 693.97L1417.57 693.97L1409.47 707.57Z" fill="#000" stroke="none"/>
<path d="M1401.37 693.97L1417.57 693.97L1409.47 707.57Z" fill="none" stroke-width="1.4" stroke-linejoin="miter"/>
<path d="M1409.47 693.97V707.57M1404.37 698.5H1409.47" fill="none" stroke-width="1.3"/>
<path d="M1429.12 689.77L1445.32 689.77L1437.22 703.37Z" fill="#fff" stroke="none"/>
<path d="M1437.22 689.77L1445.32 689.77L1437.22 703.37Z" fill="#000" stroke="none"/>
<path d="M1429.12 689.77L1445.32 689.77L1437.22 703.37Z" fill="none" stroke-width="1.4" stroke-linejoin="miter"/>
<path d="M1437.22 689.77V703.37M1432.12 694.3H1437.22" fill="none" stroke-width="1.3"/>
<path d="M1456.86 682.47L1473.06 682.47L1464.96 696.07Z" fill="#fff" stroke="none"/>
<path d="M1464.96 682.47L1473.06 682.47L1464.96 696.07Z" fill="#000" stroke="none"/>
<path d="M1456.86 682.47L1473.06 682.47L1464.96 696.07Z" fill="none" stroke-width="1.4" stroke-linejoin="miter"/>
<path d="M1464.96 682.47V696.07M1459.86 687H1464.96" fill="none" stroke-width="1.3"/>
<path d="M1484.6 684.77L1500.8 684.77L1492.7 698.37Z" fill="#fff" stroke="none"/>
<path d="M1492.7 684.77L1500.8 684.77L1492.7 698.37Z" fill="#000" stroke="none"/>
<path d="M1484.6 684.77L1500.8 684.77L1492.7 698.37Z" fill="none" stroke-width="1.4" stroke-linejoin="miter"/>
<path d="M1492.7 684.77V698.37M1487.6 689.3H1492.7" fill="none" stroke-width="1.3"/>
<path d="M1512.34 687.07L1528.54 687.07L1520.44 700.67Z" fill="#fff" stroke="none"/>
<path d="M1520.44 687.07L1528.54 687.07L1520.44 700.67Z" fill="#000" stroke="none"/>
<path d="M1512.34 687.07L1528.54 687.07L1520.44 700.67Z" fill="none" stroke-width="1.4" stroke-linejoin="miter"/>
<path d="M1520.44 687.07V700.67M1515.34 691.6H1520.44" fill="none" stroke-width="1.3"/>
<path d="M1540.08 675.07L1556.28 675.07L1548.18 688.67Z" fill="#fff" stroke="none"/>
<path d="M1548.18 675.07L1556.28 675.07L1548.18 688.67Z" fill="#000" stroke="none"/>
<path d="M1540.08 675.07L1556.28 675.07L1548.18 688.67Z" fill="none" stroke-width="1.4" stroke-linejoin="miter"/>
<path d="M1548.18 675.07V688.67M1543.08 679.6H1548.18" fill="none" stroke-width="1.3"/>
<path d="M1567.82 671.47L1584.02 671.47L1575.92 685.07Z" fill="#fff" stroke="none"/>
<path d="M1575.92 671.47L1584.02 671.47L1575.92 685.07Z" fill="#000" stroke="none"/>
<path d="M1567.82 671.47L1584.02 671.47L1575.92 685.07Z" fill="none" stroke-width="1.4" stroke-linejoin="miter"/>
<path d="M1575.92 671.47V685.07M1570.82 676H1575.92" fill="none" stroke-width="1.3"/>
<path d="M1595.56 670.97L1611.76 670.97L1603.66 684.57Z" fill="#fff" stroke="none"/>
<path d="M1603.66 670.97L1611.76 670.97L1603.66 684.57Z" fill="#000" stroke="none"/>
<path d="M1595.56 670.97L1611.76 670.97L1603.66 684.57Z" fill="none" stroke-width="1.4" stroke-linejoin="miter"/>
<path d="M1603.66 670.97V684.57M1598.56 675.5H1603.66" fill="none" stroke-width="1.3"/>
<path d="M1623.3 676.07L1639.5 676.07L1631.4 689.67Z" fill="#fff" stroke="none"/>
<path d="M1631.4 676.07L1639.5 676.07L1631.4 689.67Z" fill="#000" stroke="none"/>
<path d="M1623.3 676.07L1639.5 676.07L1631.4 689.67Z" fill="none" stroke-width="1.4" stroke-linejoin="miter"/>
<path d="M1631.4 676.07V689.67M1626.3 680.6H1631.4" fill="none" stroke-width="1.3"/>
<text x="1606.5" y="585.6" class="lab" font-size="36">d</text>
<line x1="159.8" y1="67.2" x2="179.8" y2="67.2" stroke-width="1.35" stroke-linecap="butt"/>
<line x1="198.8" y1="67.2" x2="219" y2="67.2" stroke-width="1.35" stroke-linecap="butt"/>
<rect x="183.45" y="61.45" width="11.5" height="11.5" fill="#fff" stroke-width="1.4"/>
<text transform="translate(225.6 76.5) scale(0.985 1.07)" class="lab" font-size="26.5">Control</text>
<line x1="159.8" y1="99.7" x2="179.8" y2="99.7" stroke-width="1.35" stroke-linecap="butt"/>
<line x1="198.8" y1="99.7" x2="219" y2="99.7" stroke-width="1.35" stroke-linecap="butt"/>
<path d="M189.2 90.63L197.3 104.23L181.1 104.23Z" fill="#fff" stroke-width="1.4" stroke-linejoin="miter"/>
<text transform="translate(225.6 108.5) scale(0.985 1.07)" class="lab" font-size="26.5">EFBs</text>
<line x1="159.8" y1="132.2" x2="179.8" y2="132.2" stroke-width="1.35" stroke-linecap="butt"/>
<line x1="198.8" y1="132.2" x2="219" y2="132.2" stroke-width="1.35" stroke-linecap="butt"/>
<path d="M181.1 127.67L197.3 127.67L189.2 141.27Z" fill="#fff" stroke="none"/>
<path d="M189.2 127.67L197.3 127.67L189.2 141.27Z" fill="#000" stroke="none"/>
<path d="M181.1 127.67L197.3 127.67L189.2 141.27Z" fill="none" stroke-width="1.4" stroke-linejoin="miter"/>
<text transform="translate(225.6 141) scale(0.985 1.07)" class="lab" font-size="26.5">EEFBs</text>
<line x1="160.1" y1="589" x2="180.1" y2="589" stroke-width="1.35" stroke-linecap="butt"/>
<line x1="199.1" y1="589" x2="219.3" y2="589" stroke-width="1.35" stroke-linecap="butt"/>
<rect x="183.75" y="583.25" width="11.5" height="11.5" fill="#fff" stroke-width="1.4"/>
<text transform="translate(226.1 597.7) scale(0.985 1.07)" class="lab" font-size="26.5">Control</text>
<line x1="160.1" y1="621.2" x2="180.1" y2="621.2" stroke-width="1.35" stroke-linecap="butt"/>
<line x1="199.1" y1="621.2" x2="219.3" y2="621.2" stroke-width="1.35" stroke-linecap="butt"/>
<path d="M189.5 612.13L197.6 625.73L181.4 625.73Z" fill="#fff" stroke-width="1.4" stroke-linejoin="miter"/>
<text transform="translate(226.1 629.4) scale(0.985 1.07)" class="lab" font-size="26.5">EFBs</text>
<line x1="160.1" y1="653.4" x2="180.1" y2="653.4" stroke-width="1.35" stroke-linecap="butt"/>
<line x1="199.1" y1="653.4" x2="219.3" y2="653.4" stroke-width="1.35" stroke-linecap="butt"/>
<path d="M181.4 648.87L197.6 648.87L189.5 662.47Z" fill="#fff" stroke="none"/>
<path d="M189.5 648.87L197.6 648.87L189.5 662.47Z" fill="#000" stroke="none"/>
<path d="M181.4 648.87L197.6 648.87L189.5 662.47Z" fill="none" stroke-width="1.4" stroke-linejoin="miter"/>
<text transform="translate(226.1 662.2) scale(0.985 1.07)" class="lab" font-size="26.5">EEFBs</text>
<line x1="1050.9" y1="70.4" x2="1070.9" y2="70.4" stroke-width="1.35" stroke-linecap="butt"/>
<line x1="1089.9" y1="70.4" x2="1110.1" y2="70.4" stroke-width="1.35" stroke-linecap="butt"/>
<rect x="1074.55" y="64.65" width="11.5" height="11.5" fill="#fff" stroke-width="1.4"/>
<text transform="translate(1116.8 79.7) scale(0.985 1.07)" class="lab" font-size="26.5">Control</text>
<line x1="1050.9" y1="103" x2="1070.9" y2="103" stroke-width="1.35" stroke-linecap="butt"/>
<line x1="1089.9" y1="103" x2="1110.1" y2="103" stroke-width="1.35" stroke-linecap="butt"/>
<path d="M1080.3 93.93L1088.4 107.53L1072.2 107.53Z" fill="#fff" stroke-width="1.4" stroke-linejoin="miter"/>
<text transform="translate(1116.8 112.1) scale(0.985 1.07)" class="lab" font-size="26.5">EFBs</text>
<line x1="1050.9" y1="135.2" x2="1070.9" y2="135.2" stroke-width="1.35" stroke-linecap="butt"/>
<line x1="1089.9" y1="135.2" x2="1110.1" y2="135.2" stroke-width="1.35" stroke-linecap="butt"/>
<path d="M1072.2 130.67L1088.4 130.67L1080.3 144.27Z" fill="#fff" stroke="none"/>
<path d="M1080.3 130.67L1088.4 130.67L1080.3 144.27Z" fill="#000" stroke="none"/>
<path d="M1072.2 130.67L1088.4 130.67L1080.3 144.27Z" fill="none" stroke-width="1.4" stroke-linejoin="miter"/>
<text transform="translate(1116.8 144.2) scale(0.985 1.07)" class="lab" font-size="26.5">EEFBs</text>
<line x1="1054" y1="593.3" x2="1074" y2="593.3" stroke-width="1.35" stroke-linecap="butt"/>
<line x1="1093" y1="593.3" x2="1113.2" y2="593.3" stroke-width="1.35" stroke-linecap="butt"/>
<rect x="1077.65" y="587.55" width="11.5" height="11.5" fill="#fff" stroke-width="1.4"/>
<text transform="translate(1120.1 602.5) scale(0.985 1.07)" class="lab" font-size="26.5">Control</text>
<line x1="1054" y1="625.7" x2="1074" y2="625.7" stroke-width="1.35" stroke-linecap="butt"/>
<line x1="1093" y1="625.7" x2="1113.2" y2="625.7" stroke-width="1.35" stroke-linecap="butt"/>
<path d="M1083.4 616.63L1091.5 630.23L1075.3 630.23Z" fill="#fff" stroke-width="1.4" stroke-linejoin="miter"/>
<text transform="translate(1120.1 634.3) scale(0.985 1.07)" class="lab" font-size="26.5">EFBs</text>
<line x1="1054" y1="657.8" x2="1074" y2="657.8" stroke-width="1.35" stroke-linecap="butt"/>
<line x1="1093" y1="657.8" x2="1113.2" y2="657.8" stroke-width="1.35" stroke-linecap="butt"/>
<path d="M1075.3 653.27L1091.5 653.27L1083.4 666.87Z" fill="#fff" stroke="none"/>
<path d="M1083.4 653.27L1091.5 653.27L1083.4 666.87Z" fill="#000" stroke="none"/>
<path d="M1075.3 653.27L1091.5 653.27L1083.4 666.87Z" fill="none" stroke-width="1.4" stroke-linejoin="miter"/>
<text transform="translate(1120.1 666.7) scale(0.985 1.07)" class="lab" font-size="26.5">EEFBs</text>
<text transform="translate(129.9 1115.9) scale(0.95 1)" class="num" font-size="27" text-anchor="middle">0</text>
<text transform="translate(1021.1 1118.6) scale(0.95 1)" class="num" font-size="27" text-anchor="middle">0</text>
<text transform="translate(186.18 1115.9) scale(0.95 1)" class="num" font-size="27" text-anchor="middle">2</text>
<text transform="translate(1076.58 1118.6) scale(0.95 1)" class="num" font-size="27" text-anchor="middle">2</text>
<text transform="translate(242.46 1115.9) scale(0.95 1)" class="num" font-size="27" text-anchor="middle">4</text>
<text transform="translate(1132.06 1118.6) scale(0.95 1)" class="num" font-size="27" text-anchor="middle">4</text>
<text transform="translate(298.75 1115.9) scale(0.95 1)" class="num" font-size="27" text-anchor="middle">6</text>
<text transform="translate(1187.55 1118.6) scale(0.95 1)" class="num" font-size="27" text-anchor="middle">6</text>
<text transform="translate(355.03 1115.9) scale(0.95 1)" class="num" font-size="27" text-anchor="middle">8</text>
<text transform="translate(1243.03 1118.6) scale(0.95 1)" class="num" font-size="27" text-anchor="middle">8</text>
<text transform="translate(411.31 1115.9) scale(0.95 1)" class="num" font-size="27" text-anchor="middle">10</text>
<text transform="translate(1298.51 1118.6) scale(0.95 1)" class="num" font-size="27" text-anchor="middle">10</text>
<text transform="translate(467.59 1115.9) scale(0.95 1)" class="num" font-size="27" text-anchor="middle">12</text>
<text transform="translate(1353.99 1118.6) scale(0.95 1)" class="num" font-size="27" text-anchor="middle">12</text>
<text transform="translate(523.87 1115.9) scale(0.95 1)" class="num" font-size="27" text-anchor="middle">14</text>
<text transform="translate(1409.47 1118.6) scale(0.95 1)" class="num" font-size="27" text-anchor="middle">14</text>
<text transform="translate(580.16 1115.9) scale(0.95 1)" class="num" font-size="27" text-anchor="middle">16</text>
<text transform="translate(1464.96 1118.6) scale(0.95 1)" class="num" font-size="27" text-anchor="middle">16</text>
<text transform="translate(636.44 1115.9) scale(0.95 1)" class="num" font-size="27" text-anchor="middle">18</text>
<text transform="translate(1520.44 1118.6) scale(0.95 1)" class="num" font-size="27" text-anchor="middle">18</text>
<text transform="translate(692.72 1115.9) scale(0.95 1)" class="num" font-size="27" text-anchor="middle">20</text>
<text transform="translate(1575.92 1118.6) scale(0.95 1)" class="num" font-size="27" text-anchor="middle">20</text>
<text transform="translate(749 1115.9) scale(0.95 1)" class="num" font-size="27" text-anchor="middle">22</text>
<text transform="translate(1631.4 1118.6) scale(0.95 1)" class="num" font-size="27" text-anchor="middle">22</text>
<text transform="translate(379.2 1161.9) scale(1 1.06)" class="lab" font-size="35.5">Time(d)</text>
<text transform="translate(1266.3 1164.8) scale(1 1.06)" class="lab" font-size="35.5">Time(d)</text>
<text transform="translate(32.9 464.7) rotate(-90) scale(1 1.045)" class="lab" font-size="35">Removal rate of TN(mg L</text>
<text transform="translate(18.5 71.6) rotate(-90) scale(1 1.045)" class="lab" font-size="24">–1</text>
<text transform="translate(32.9 42.8) rotate(-90) scale(1 1.045)" class="lab" font-size="35">)</text>
<text transform="translate(31.7 1072.9) rotate(-90) scale(1 1.045)" class="lab" font-size="35">Removal efficiency of TN(mg m</text>
<text transform="translate(17.3 584.8) rotate(-90) scale(1 1.045)" class="lab" font-size="24">–2</text>
<text transform="translate(31.7 556) rotate(-90) scale(1 1.045)" class="lab" font-size="35">)</text>
<text transform="translate(858.4 416.9) rotate(-90) scale(1 1.045)" class="lab" font-size="35">Removal rate of NH</text>
<text transform="translate(868.6 109.1) rotate(-90) scale(1 1.045)" class="lab" font-size="24">3</text>
<text transform="translate(858.4 96.3) rotate(-90) scale(1 1.045)" class="lab" font-size="35">-N</text>
<text transform="translate(914.9 301.9) rotate(-90) scale(1 1.045)" class="lab" font-size="35">(mg L</text>
<text transform="translate(900.6 212.1) rotate(-90) scale(1 1.045)" class="lab" font-size="24">–1</text>
<text transform="translate(914.9 182.2) rotate(-90) scale(1 1.045)" class="lab" font-size="35">)</text>
<text transform="translate(866.9 1063.3) rotate(-90) scale(1 1.045)" class="lab" font-size="35">Removal efficiency of NH</text>
<text transform="translate(876.1 669.3) rotate(-90) scale(1 1.045)" class="lab" font-size="24">3</text>
<text transform="translate(866.9 656) rotate(-90) scale(1 1.045)" class="lab" font-size="35">-N</text>
<text transform="translate(922.2 904.2) rotate(-90) scale(1 1.045)" class="lab" font-size="35">(mg m</text>
<text transform="translate(907.5 804.8) rotate(-90) scale(1 1.045)" class="lab" font-size="24">–2</text>
<text transform="translate(922.2 775.6) rotate(-90) scale(1 1.045)" class="lab" font-size="35">)</text>
</g>
</svg>
</body></html>
